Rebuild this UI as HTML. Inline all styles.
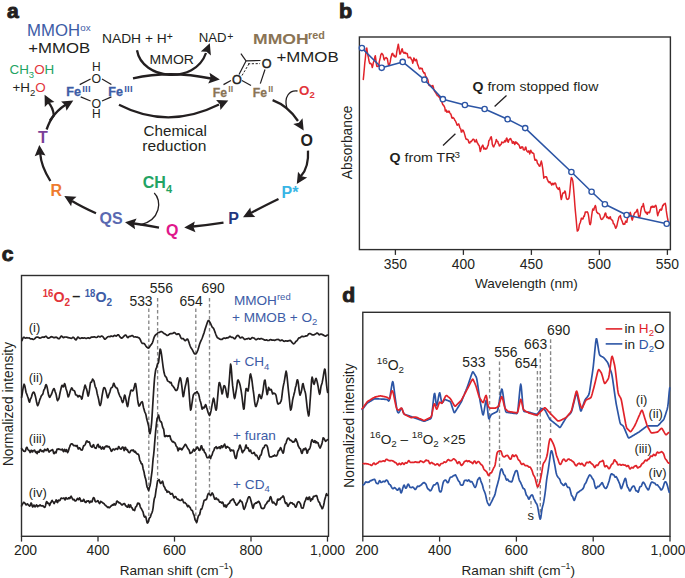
<!DOCTYPE html>
<html><head><meta charset="utf-8"><style>
html,body{margin:0;padding:0;background:#fff;}
svg{display:block;font-family:"Liberation Sans",sans-serif;}
</style></head><body>
<svg width="685" height="578" viewBox="0 0 685 578">
<rect width="685" height="578" fill="#fff"/>
<text transform="translate(7.0 17.6) scale(1.08 1)" font-size="19.5" fill="#231f20" font-weight="bold" text-anchor="start" stroke="#231f20" stroke-width="0.9">a</text>
<text transform="translate(27 36.4) scale(1.047 1)" font-size="16" fill="#3d5ca6" font-weight="normal" text-anchor="start" >MMOH</text>
<text x="80.3" y="31.2" font-size="9.8" fill="#3d5ca6" font-weight="normal" text-anchor="start" >ox</text>
<text transform="translate(28.3 52.7) scale(1.095 1)" font-size="15.3" fill="#231f20" font-weight="normal" text-anchor="start" >+MMOB</text>
<text x="9.5" y="74.4" font-size="13.4" fill="#22a363">CH<tspan font-size="9.5" dy="4">3</tspan><tspan dy="-4" fill="#e2343a">O</tspan>H</text>
<text x="12.5" y="91.8" font-size="13.4" fill="#231f20">+H<tspan font-size="9.5" dy="4">2</tspan><tspan dy="-4" fill="#e2343a">O</tspan></text>
<text x="66.2" y="96" font-size="12.6" fill="#3d5ca6" font-weight="bold" text-anchor="start" stroke="#3d5ca6" stroke-width="0.3">Fe</text>
<text x="82.2" y="92.0" font-size="9.6" fill="#3d5ca6" font-weight="bold" text-anchor="start" letter-spacing="0.2">III</text>
<text x="108.2" y="96" font-size="12.6" fill="#3d5ca6" font-weight="bold" text-anchor="start" stroke="#3d5ca6" stroke-width="0.3">Fe</text>
<text x="124.2" y="92.0" font-size="9.6" fill="#3d5ca6" font-weight="bold" text-anchor="start" letter-spacing="0.2">III</text>
<text x="96.3" y="71.3" font-size="12" fill="#231f20" font-weight="normal" text-anchor="middle" >H</text>
<text x="96.3" y="82.6" font-size="12.3" fill="#231f20" font-weight="normal" text-anchor="middle" >O</text>
<text x="96.3" y="107.7" font-size="12.3" fill="#231f20" font-weight="normal" text-anchor="middle" >O</text>
<text x="96.3" y="118.4" font-size="12" fill="#231f20" font-weight="normal" text-anchor="middle" >H</text>
<line x1="79.7" y1="84.6" x2="90.6" y2="79" stroke="#231f20" stroke-width="1.2" />
<line x1="102" y1="79" x2="111.4" y2="84.6" stroke="#231f20" stroke-width="1.2" />
<line x1="80.7" y1="96.9" x2="90.6" y2="101" stroke="#231f20" stroke-width="1.2" />
<line x1="102" y1="101" x2="111.4" y2="96.9" stroke="#231f20" stroke-width="1.2" />
<text transform="translate(102.0 42.8) scale(1.045 1)" font-size="13.2" fill="#231f20" font-weight="normal" text-anchor="start" >NADH + H</text>
<text x="166.8" y="40.2" font-size="10.5" fill="#231f20" font-weight="normal" text-anchor="start" >+</text>
<text x="198.8" y="41.9" font-size="13.2" fill="#231f20" font-weight="normal" text-anchor="start" >NAD</text>
<text x="227.2" y="39.9" font-size="10.5" fill="#231f20" font-weight="normal" text-anchor="start" >+</text>
<text transform="translate(149.6 64.3) scale(1.044 1)" font-size="13.4" fill="#231f20" font-weight="normal" text-anchor="start" >MMOR</text>
<text transform="translate(143.6 136.0) scale(1.1 1)" font-size="13.8" fill="#231f20" font-weight="normal" text-anchor="start" >Chemical</text>
<text transform="translate(142.3 151.1) scale(1.13 1)" font-size="13.8" fill="#231f20" font-weight="normal" text-anchor="start" >reduction</text>
<text transform="translate(253 44.3) scale(1.15 1)" font-size="15.3" fill="#8a7455" font-weight="bold" text-anchor="start" >MMOH</text>
<text x="308" y="38.9" font-size="10.8" fill="#8a7455" font-weight="bold" text-anchor="start" >red</text>
<text transform="translate(276.4 61.5) scale(1.14 1)" font-size="14.8" fill="#231f20" font-weight="normal" text-anchor="start" >+MMOB</text>
<text x="212.7" y="96.6" font-size="12.2" fill="#8a7455" font-weight="bold" text-anchor="start" stroke="#8a7455" stroke-width="0.3">Fe</text>
<text x="228.3" y="92.2" font-size="8.8" fill="#8a7455" font-weight="bold" text-anchor="start" >II</text>
<text x="252.7" y="96.6" font-size="12.2" fill="#8a7455" font-weight="bold" text-anchor="start" stroke="#8a7455" stroke-width="0.3">Fe</text>
<text x="268.3" y="92.2" font-size="8.8" fill="#8a7455" font-weight="bold" text-anchor="start" >II</text>
<text x="266.6" y="68.3" font-size="12.6" fill="#231f20" font-weight="normal" text-anchor="middle" stroke="#231f20" stroke-width="0.45">O</text>
<text x="237.0" y="83.6" font-size="12.6" fill="#231f20" font-weight="normal" text-anchor="middle" stroke="#231f20" stroke-width="0.45">O</text>
<line x1="240.9" y1="53.7" x2="246" y2="60.9" stroke="#231f20" stroke-width="1.2" />
<line x1="246" y1="60.9" x2="260.5" y2="60.5" stroke="#231f20" stroke-width="1.2" />
<line x1="246" y1="60.9" x2="239" y2="74.5" stroke="#231f20" stroke-width="1.2" />
<line x1="248" y1="63.8" x2="260" y2="63.6" stroke="#231f20" stroke-width="1.0" stroke-dasharray="2.2,1.6"/>
<line x1="249" y1="63.8" x2="242" y2="75.5" stroke="#231f20" stroke-width="1.0" stroke-dasharray="2.2,1.6"/>
<line x1="231" y1="80.5" x2="223.5" y2="84.6" stroke="#231f20" stroke-width="1.2" />
<line x1="241.9" y1="80.5" x2="251" y2="85.6" stroke="#231f20" stroke-width="1.2" />
<line x1="265" y1="69.5" x2="260.3" y2="83.6" stroke="#231f20" stroke-width="1.2" />
<text x="299" y="94.6" font-size="13.4" fill="#e2343a" font-weight="bold">O<tspan font-size="9.5" dy="3.5">2</tspan></text>
<path d="M137,50.3 C142,80 195,85 206,53" fill="none" stroke="#231f20" stroke-width="2.3" stroke-linecap="butt"/>
<polygon points="209.8,43.2 210.9,55.4 206.5,51.8 200.8,51.5" fill="#231f20"/>
<path d="M133,78.4 Q170,70 211,78.5" fill="none" stroke="#231f20" stroke-width="2.3" stroke-linecap="butt"/>
<polygon points="219.8,79.4 208.2,83.4 210.7,78.3 209.5,72.7" fill="#231f20"/>
<path d="M119,104.7 Q168,130 219,104.5" fill="none" stroke="#231f20" stroke-width="2.3" stroke-linecap="butt"/>
<polygon points="228.3,100.6 220.4,110.0 219.9,104.3 216.1,100.1" fill="#231f20"/>
<path d="M272.6,100.2 Q288,106 298,121" fill="none" stroke="#231f20" stroke-width="2.3" stroke-linecap="butt"/>
<polygon points="303.7,130.5 293.3,124.0 298.8,122.7 302.5,118.3" fill="#231f20"/>
<path d="M297.5,91 C289,90 284,97 286.8,108" fill="none" stroke="#231f20" stroke-width="1.3"/>
<path d="M308,150.6 Q309,167 301,176" fill="none" stroke="#231f20" stroke-width="2.3" stroke-linecap="butt"/>
<polygon points="296.8,184.0 298.0,171.8 301.7,176.2 307.2,177.5" fill="#231f20"/>
<path d="M278.5,199 Q262,207 251,213" fill="none" stroke="#231f20" stroke-width="2.3" stroke-linecap="butt"/>
<polygon points="243.0,217.2 250.3,207.4 251.2,213.0 255.3,217.0" fill="#231f20"/>
<path d="M223.5,222.6 Q208,225 193,226.5" fill="none" stroke="#231f20" stroke-width="2.3" stroke-linecap="butt"/>
<polygon points="184.2,227.6 194.8,221.4 193.4,227.0 195.5,232.2" fill="#231f20"/>
<path d="M159,227.7 Q145,225 134,223.5" fill="none" stroke="#231f20" stroke-width="2.3" stroke-linecap="butt"/>
<polygon points="125.0,222.3 136.6,218.5 134.1,223.6 135.1,229.2" fill="#231f20"/>
<path d="M154.2,193 C162,200 161,220 140.4,224.8" fill="none" stroke="#231f20" stroke-width="1.3"/>
<path d="M96,213.3 Q82,207 72,201" fill="none" stroke="#231f20" stroke-width="2.3" stroke-linecap="butt"/>
<polygon points="64.3,196.0 76.5,196.8 72.3,200.6 71.1,206.2" fill="#231f20"/>
<path d="M50.4,181 Q41,166 40.3,154" fill="none" stroke="#231f20" stroke-width="2.3" stroke-linecap="butt"/>
<polygon points="39.3,145.0 45.5,155.6 39.9,154.2 34.7,156.3" fill="#231f20"/>
<path d="M46.6,129.5 Q50,120 54.2,115" fill="none" stroke="#231f20" stroke-width="2.3"/>
<path d="M54,116 Q53,107 48,102" fill="none" stroke="#231f20" stroke-width="2.3" stroke-linecap="butt"/>
<polygon points="44.6,94.8 54.4,102.1 48.8,103.0 44.8,107.1" fill="#231f20"/>
<path d="M50,120.5 Q57,110 66,104.5" fill="none" stroke="#231f20" stroke-width="2.3" stroke-linecap="butt"/>
<polygon points="73.3,100.6 66.5,110.8 65.3,105.2 61.1,101.4" fill="#231f20"/>
<text x="38" y="143.3" font-size="16" fill="#7b3f98" font-weight="bold" text-anchor="start" >T</text>
<text x="50.4" y="195.8" font-size="16" fill="#ee7a2e" font-weight="bold" text-anchor="start" >R</text>
<text x="99.6" y="224.2" font-size="16" fill="#5a69b1" font-weight="bold" text-anchor="start" >QS</text>
<text x="166" y="235.9" font-size="16" fill="#e0178b" font-weight="bold" text-anchor="start" >Q</text>
<text x="228.3" y="224" font-size="16" fill="#23367f" font-weight="bold" text-anchor="start" >P</text>
<text x="281.5" y="197.6" font-size="16" fill="#39b5e5" font-weight="bold" text-anchor="start" >P*</text>
<text x="300.6" y="146.2" font-size="16" fill="#231f20" font-weight="bold" text-anchor="start" >O</text>
<text x="142.8" y="188" font-size="16" fill="#22a363" font-weight="bold">CH<tspan font-size="11" dy="4.5">4</tspan></text>
<text transform="translate(339.0 18.0) scale(1.08 1)" font-size="20" fill="#231f20" font-weight="bold" text-anchor="start" stroke="#231f20" stroke-width="0.9">b</text>
<rect x="359.4" y="37" width="311.0" height="212.6" fill="none" stroke="#2e2e2e" stroke-width="1.4"/>
<line x1="395.4" y1="249.6" x2="395.4" y2="254.9" stroke="#2e2e2e" stroke-width="1.3" />
<text x="395.4" y="269.4" font-size="13.9" fill="#231f20" font-weight="normal" text-anchor="middle" >350</text>
<line x1="463.4" y1="249.6" x2="463.4" y2="254.9" stroke="#2e2e2e" stroke-width="1.3" />
<text x="463.4" y="269.4" font-size="13.9" fill="#231f20" font-weight="normal" text-anchor="middle" >400</text>
<line x1="531.4" y1="249.6" x2="531.4" y2="254.9" stroke="#2e2e2e" stroke-width="1.3" />
<text x="531.4" y="269.4" font-size="13.9" fill="#231f20" font-weight="normal" text-anchor="middle" >450</text>
<line x1="599.4" y1="249.6" x2="599.4" y2="254.9" stroke="#2e2e2e" stroke-width="1.3" />
<text x="599.4" y="269.4" font-size="13.9" fill="#231f20" font-weight="normal" text-anchor="middle" >500</text>
<line x1="667.4" y1="249.6" x2="667.4" y2="254.9" stroke="#2e2e2e" stroke-width="1.3" />
<text x="667.4" y="269.4" font-size="13.9" fill="#231f20" font-weight="normal" text-anchor="middle" >550</text>
<text x="526.4" y="287.8" font-size="13.6" fill="#231f20" font-weight="normal" text-anchor="middle" >Wavelength (nm)</text>
<text x="351.6" y="142.3" font-size="13.8" fill="#231f20" text-anchor="middle" transform="rotate(-90 351.6 142.3)">Absorbance</text>
<polyline points="363.3,79.4 363.8,74.4 364.3,68.7 364.8,62.9 365.3,58.8 365.8,53.5 366.3,48.6 366.8,48.1 367.3,51.8 367.8,55.1 368.3,57.0 368.8,60.0 369.3,62.2 369.8,63.6 370.3,63.3 370.8,63.5 371.3,64.2 371.8,65.3 372.3,67.6 372.8,65.5 373.3,62.7 373.8,61.5 374.3,60.3 374.8,57.1 375.3,55.7 375.8,59.0 376.3,63.7 376.8,66.3 377.3,66.5 377.8,66.2 378.3,66.3 378.8,65.4 379.3,61.6 379.8,59.6 380.3,57.5 380.8,54.8 381.3,54.0 381.8,53.4 382.3,54.0 382.8,54.6 383.3,55.7 383.8,59.0 384.3,60.0 384.8,58.5 385.3,58.2 385.8,57.7 386.3,57.5 386.8,58.4 387.3,58.5 387.8,61.3 388.3,64.3 388.8,65.5 389.3,64.9 389.8,63.6 390.3,61.4 390.8,58.0 391.3,56.6 391.8,54.1 392.3,53.6 392.8,53.3 393.3,55.4 393.8,55.9 394.3,55.4 394.8,56.8 395.3,56.4 395.8,57.0 396.3,55.7 396.8,51.7 397.3,49.2 397.8,46.7 398.3,44.2 398.8,47.1 399.3,50.4 399.8,54.1 400.3,54.1 400.8,52.7 401.3,51.1 401.8,49.1 402.3,48.8 402.8,51.7 403.3,52.3 403.8,53.1 404.3,53.3 404.8,52.2 405.3,52.7 405.8,53.5 406.3,53.4 406.8,53.3 407.3,53.6 407.8,56.5 408.3,57.8 408.8,57.6 409.3,57.3 409.8,57.7 410.3,57.2 410.8,57.9 411.3,59.3 411.8,59.6 412.3,61.3 412.8,63.2 413.3,61.0 413.8,58.0 414.3,58.6 414.8,60.0 415.3,60.8 415.8,60.0 416.3,59.4 416.8,60.5 417.3,63.3 417.8,64.9 418.3,65.9 418.8,67.5 419.3,68.6 419.8,69.0 420.3,68.0 420.8,68.4 421.3,68.7 421.8,68.2 422.3,68.8 422.8,71.2 423.3,71.8 423.8,73.1 424.3,72.8 424.8,72.9 425.3,75.2 425.8,76.5 426.3,77.2 426.8,78.2 427.3,78.6 427.8,79.7 428.3,82.0 428.8,85.0 429.3,85.4 429.8,85.0 430.3,85.7 430.8,85.5 431.3,86.0 431.8,87.1 432.3,86.3 432.8,85.5 433.3,86.9 433.8,88.9 434.3,90.5 434.8,91.8 435.3,91.6 435.8,93.0 436.3,93.9 436.8,94.4 437.3,95.6 437.8,95.8 438.3,95.7 438.8,96.9 439.3,96.4 439.8,97.8 440.3,99.2 440.8,100.3 441.3,100.5 441.8,101.8 442.3,103.3 442.8,104.7 443.3,104.7 443.8,105.8 444.3,106.5 444.8,107.7 445.3,111.1 445.8,110.4 446.3,110.1 446.8,112.2 447.3,111.3 447.8,111.8 448.3,112.1 448.8,111.0 449.3,111.5 449.8,112.7 450.3,113.8 450.8,114.0 451.3,115.5 451.8,117.8 452.3,118.3 452.8,117.5 453.3,117.8 453.8,118.3 454.3,118.9 454.8,120.2 455.3,120.7 455.8,121.8 456.3,122.9 456.8,124.5 457.3,125.2 457.8,124.5 458.3,124.1 458.8,124.0 459.3,125.7 459.8,127.5 460.3,128.4 460.8,129.2 461.3,132.0 461.8,132.0 462.3,130.6 462.8,130.0 463.3,130.5 463.8,131.8 464.3,133.1 464.8,134.9 465.3,136.8 465.8,138.6 466.3,139.4 466.8,139.1 467.3,139.5 467.8,139.5 468.3,140.5 468.8,142.7 469.3,142.5 469.8,143.1 470.3,141.7 470.8,141.4 471.3,141.7 471.8,140.8 472.3,140.3 472.8,139.5 473.3,139.2 473.8,139.5 474.3,140.1 474.8,141.8 475.3,141.7 475.8,141.8 476.3,139.6 476.8,141.3 477.3,142.9 477.8,143.3 478.3,144.7 478.8,145.1 479.3,145.9 479.8,148.7 480.3,151.6 480.8,149.7 481.3,148.0 481.8,146.7 482.3,146.0 482.8,145.1 483.3,146.6 483.8,149.1 484.3,148.6 484.8,148.1 485.3,148.7 485.8,149.2 486.3,148.5 486.8,148.5 487.3,147.1 487.8,145.8 488.3,144.8 488.8,140.9 489.3,140.2 489.8,139.9 490.3,138.1 490.8,137.2 491.3,136.8 491.8,139.6 492.3,144.3 492.8,145.6 493.3,146.6 493.8,146.9 494.3,145.2 494.8,144.3 495.3,143.3 495.8,142.1 496.3,139.4 496.8,140.8 497.3,141.3 497.8,141.5 498.3,143.5 498.8,144.0 499.3,145.9 499.8,145.7 500.3,145.1 500.8,144.5 501.3,144.0 501.8,142.0 502.3,142.5 502.8,142.5 503.3,142.7 503.8,142.4 504.3,141.7 504.8,140.5 505.3,141.8 505.8,141.4 506.3,138.6 506.8,138.1 507.3,139.5 507.8,141.5 508.3,142.2 508.8,140.2 509.3,139.6 509.8,139.1 510.3,138.6 510.8,138.7 511.3,140.2 511.8,140.8 512.3,143.1 512.8,143.2 513.3,141.7 513.8,141.7 514.3,143.2 514.8,144.6 515.3,142.9 515.8,141.8 516.3,142.9 516.8,143.3 517.3,143.0 517.8,144.2 518.3,144.1 518.8,144.8 519.3,145.6 519.8,147.5 520.3,148.3 520.8,147.3 521.3,147.9 521.8,146.8 522.3,147.0 522.8,147.2 523.3,149.7 523.8,149.7 524.3,150.0 524.8,149.7 525.3,147.6 525.8,147.0 526.3,149.2 526.8,151.1 527.3,151.3 527.8,152.1 528.3,152.0 528.8,150.8 529.3,152.4 529.8,153.9 530.3,151.8 530.8,150.3 531.3,151.5 531.8,152.3 532.3,152.9 532.8,152.8 533.3,153.4 533.8,153.6 534.3,157.1 534.8,159.9 535.3,160.3 535.8,159.5 536.3,160.5 536.8,160.3 537.3,162.9 537.8,163.9 538.3,163.9 538.8,165.2 539.3,166.1 539.8,166.2 540.3,164.8 540.8,163.0 541.3,161.1 541.8,162.9 542.3,165.9 542.8,169.1 543.3,173.4 543.8,178.2 544.3,177.3 544.8,176.9 545.3,177.1 545.8,176.7 546.3,176.8 546.8,177.5 547.3,179.6 547.8,180.3 548.3,181.7 548.8,182.1 549.3,182.7 549.8,181.7 550.3,182.7 550.8,183.1 551.3,184.3 551.8,185.1 552.3,183.7 552.8,183.3 553.3,184.3 553.8,184.6 554.3,183.2 554.8,183.5 555.3,183.0 555.8,183.9 556.3,185.9 556.8,187.5 557.3,187.8 557.8,188.6 558.3,189.4 558.8,188.8 559.3,187.6 559.8,189.6 560.3,192.5 560.8,197.0 561.3,199.5 561.8,197.6 562.3,195.1 562.8,193.1 563.3,192.8 563.8,193.1 564.3,192.7 564.8,191.0 565.3,191.7 565.8,194.7 566.3,197.9 566.8,199.0 567.3,199.4 567.8,199.2 568.3,199.1 568.8,198.5 569.3,196.1 569.8,191.6 570.3,186.2 570.8,181.2 571.3,177.6 571.8,178.1 572.3,179.1 572.8,181.1 573.3,185.4 573.8,191.4 574.3,197.3 574.8,204.4 575.3,210.4 575.8,215.5 576.3,220.9 576.8,227.1 577.3,231.1 577.8,230.7 578.3,230.1 578.8,228.4 579.3,225.0 579.8,223.6 580.3,222.5 580.8,220.8 581.3,218.3 581.8,218.2 582.3,219.1 582.8,219.1 583.3,218.1 583.8,216.1 584.3,216.2 584.8,214.3 585.3,211.9 585.8,212.4 586.3,212.0 586.8,212.0 587.3,211.8 587.8,212.7 588.3,214.4 588.8,217.4 589.3,221.7 589.8,224.3 590.3,224.6 590.8,222.8 591.3,218.5 591.8,214.6 592.3,211.3 592.8,209.0 593.3,209.3 593.8,210.2 594.3,207.9 594.8,206.7 595.3,205.5 595.8,206.8 596.3,210.5 596.8,212.2 597.3,212.6 597.8,213.4 598.3,213.3 598.8,213.6 599.3,214.0 599.8,214.9 600.3,217.0 600.8,218.6 601.3,219.4 601.8,219.3 602.3,219.1 602.8,218.8 603.3,217.5 603.8,217.2 604.3,215.9 604.8,214.3 605.3,213.1 605.8,213.2 606.3,216.3 606.8,217.6 607.3,216.6 607.8,217.7 608.3,218.4 608.8,217.5 609.3,218.6 609.8,217.2 610.3,216.7 610.8,218.9 611.3,219.3 611.8,219.6 612.3,220.8 612.8,220.8 613.3,223.6 613.8,223.7 614.3,224.7 614.8,225.7 615.3,227.4 615.8,228.3 616.3,227.2 616.8,226.2 617.3,223.8 617.8,221.4 618.3,219.7 618.8,217.5 619.3,216.6 619.8,216.5 620.3,215.5 620.8,217.7 621.3,219.5 621.8,220.4 622.3,221.8 622.8,223.4 623.3,224.4 623.8,224.2 624.3,223.8 624.8,224.2 625.3,222.1 625.8,221.1 626.3,221.9 626.8,222.3 627.3,219.4 627.8,216.7 628.3,216.8 628.8,216.6 629.3,215.6 629.8,213.4 630.3,212.4 630.8,214.1 631.3,216.4 631.8,219.0 632.3,220.1 632.8,218.4 633.3,216.6 633.8,215.2 634.3,213.7 634.8,212.9 635.3,212.4 635.8,212.1 636.3,212.0 636.8,210.3 637.3,209.3 637.8,211.3 638.3,214.7 638.8,217.2 639.3,217.1 639.8,216.8 640.3,214.4 640.8,211.0 641.3,208.4 641.8,206.5 642.3,206.4 642.8,206.5 643.3,203.6 643.8,205.8 644.3,209.0 644.8,210.7 645.3,212.1 645.8,212.8 646.3,212.2 646.8,213.6 647.3,214.3 647.8,212.5 648.3,212.2 648.8,212.6 649.3,212.7 649.8,212.0 650.3,209.9 650.8,207.3 651.3,206.5 651.8,207.4 652.3,207.2 652.8,206.1 653.3,206.5 653.8,207.2 654.3,207.2 654.8,205.9 655.3,206.0 655.8,205.3 656.3,207.0 656.8,209.9 657.3,213.7 657.8,215.7 658.3,213.3 658.8,212.3 659.3,211.6 659.8,209.8 660.3,210.0 660.8,209.1 661.3,210.1 661.8,209.4 662.3,207.0 662.8,205.2 663.3,205.5 663.8,204.1 664.3,203.9 664.8,204.0 665.3,203.3 665.8,206.2 666.3,210.7 666.8,214.1 667.3,217.1 667.8,219.5 668.3,222.1" fill="none" stroke="#e1232a" stroke-width="1.5" stroke-linejoin="round" stroke-linecap="round" />
<polyline points="361.9,48.1 381.7,67.8 402.7,61.9 424.4,79.7 442.9,99.2 464.9,105 484.6,109 507.6,119.2 525.2,128.1 571.4,172 591.6,191.7 604.9,204.2 626.6,215 666.7,223.7" fill="none" stroke="#2c55a5" stroke-width="1.55" stroke-linejoin="round" stroke-linecap="round" />
<circle cx="361.9" cy="48.1" r="2.65" fill="#fff" stroke="#2c55a5" stroke-width="1.35"/>
<circle cx="381.7" cy="67.8" r="2.65" fill="#fff" stroke="#2c55a5" stroke-width="1.35"/>
<circle cx="402.7" cy="61.9" r="2.65" fill="#fff" stroke="#2c55a5" stroke-width="1.35"/>
<circle cx="424.4" cy="79.7" r="2.65" fill="#fff" stroke="#2c55a5" stroke-width="1.35"/>
<circle cx="442.9" cy="99.2" r="2.65" fill="#fff" stroke="#2c55a5" stroke-width="1.35"/>
<circle cx="464.9" cy="105" r="2.65" fill="#fff" stroke="#2c55a5" stroke-width="1.35"/>
<circle cx="484.6" cy="109" r="2.65" fill="#fff" stroke="#2c55a5" stroke-width="1.35"/>
<circle cx="507.6" cy="119.2" r="2.65" fill="#fff" stroke="#2c55a5" stroke-width="1.35"/>
<circle cx="525.2" cy="128.1" r="2.65" fill="#fff" stroke="#2c55a5" stroke-width="1.35"/>
<circle cx="571.4" cy="172" r="2.65" fill="#fff" stroke="#2c55a5" stroke-width="1.35"/>
<circle cx="591.6" cy="191.7" r="2.65" fill="#fff" stroke="#2c55a5" stroke-width="1.35"/>
<circle cx="604.9" cy="204.2" r="2.65" fill="#fff" stroke="#2c55a5" stroke-width="1.35"/>
<circle cx="626.6" cy="215" r="2.65" fill="#fff" stroke="#2c55a5" stroke-width="1.35"/>
<circle cx="666.7" cy="223.7" r="2.65" fill="#fff" stroke="#2c55a5" stroke-width="1.35"/>
<text transform="translate(472.6 91.2) scale(1.05 1)" font-size="13.4" fill="#231f20" font-weight="normal" text-anchor="start" ><tspan font-weight="bold">Q</tspan> from stopped flow</text>
<line x1="506.5" y1="95.5" x2="494.6" y2="106.4" stroke="#231f20" stroke-width="1.3" />
<text transform="translate(389.5 162.3) scale(1.06 1)" font-size="13.4" fill="#231f20" font-weight="normal" text-anchor="start" ><tspan font-weight="bold">Q</tspan> from TR</text>
<text x="454.6" y="157.8" font-size="9.8" fill="#231f20" font-weight="normal" text-anchor="start" >3</text>
<line x1="455.4" y1="133.8" x2="443" y2="145.5" stroke="#231f20" stroke-width="1.3" />
<text transform="translate(1.8 261.2) scale(1.08 1)" font-size="19.5" fill="#231f20" font-weight="bold" text-anchor="start" stroke="#231f20" stroke-width="0.9">c</text>
<rect x="21.5" y="275.5" width="307.0" height="260.79999999999995" fill="none" stroke="#2e2e2e" stroke-width="1.4"/>
<line x1="21.5" y1="536.3" x2="21.5" y2="541.5999999999999" stroke="#2e2e2e" stroke-width="1.3" />
<text x="25.5" y="555.4" font-size="13.9" fill="#231f20" font-weight="normal" text-anchor="middle" >200</text>
<line x1="98.0" y1="536.3" x2="98.0" y2="541.5999999999999" stroke="#2e2e2e" stroke-width="1.3" />
<text x="98.0" y="555.4" font-size="13.9" fill="#231f20" font-weight="normal" text-anchor="middle" >400</text>
<line x1="174.5" y1="536.3" x2="174.5" y2="541.5999999999999" stroke="#2e2e2e" stroke-width="1.3" />
<text x="174.5" y="555.4" font-size="13.9" fill="#231f20" font-weight="normal" text-anchor="middle" >600</text>
<line x1="251.0" y1="536.3" x2="251.0" y2="541.5999999999999" stroke="#2e2e2e" stroke-width="1.3" />
<text x="251.0" y="555.4" font-size="13.9" fill="#231f20" font-weight="normal" text-anchor="middle" >800</text>
<line x1="327.5" y1="536.3" x2="327.5" y2="541.5999999999999" stroke="#2e2e2e" stroke-width="1.3" />
<text x="327.5" y="555.4" font-size="13.9" fill="#231f20" font-weight="normal" text-anchor="middle" >1,000</text>
<text x="176.5" y="574.6" font-size="13.6" fill="#231f20" text-anchor="middle">Raman shift (cm<tspan font-size="8.8" dy="-5.5">−1</tspan><tspan dy="5.5">)</tspan></text>
<text x="12.6" y="404" font-size="13.8" fill="#231f20" text-anchor="middle" transform="rotate(-90 12.6 404)">Normalized intensity</text>
<text transform="translate(42.8 302) scale(0.95 1)" font-size="15" font-weight="bold" fill="#e2343a"><tspan font-size="10" dy="-5.5">16</tspan><tspan dy="5.5">O</tspan><tspan font-size="10.5" dy="4">2</tspan></text>
<text x="72.3" y="301" font-size="14.5" font-weight="bold" fill="#231f20">–</text>
<text transform="translate(84.8 302) scale(0.95 1)" font-size="15" font-weight="bold" fill="#3d5ca6"><tspan font-size="10" dy="-5.5">18</tspan><tspan dy="5.5">O</tspan><tspan font-size="10.5" dy="4">2</tspan></text>
<text x="141" y="305.5" font-size="13.9" fill="#231f20" font-weight="normal" text-anchor="middle" >533</text>
<text x="161.3" y="292.8" font-size="13.9" fill="#231f20" font-weight="normal" text-anchor="middle" >556</text>
<text x="191.1" y="305.5" font-size="13.9" fill="#231f20" font-weight="normal" text-anchor="middle" >654</text>
<text x="213.1" y="292.8" font-size="13.9" fill="#231f20" font-weight="normal" text-anchor="middle" >690</text>
<line x1="148.8" y1="308.5" x2="148.8" y2="522" stroke="#878787" stroke-width="1.35" stroke-dasharray="3.6,2.4"/>
<line x1="157.6" y1="298" x2="157.6" y2="479" stroke="#878787" stroke-width="1.35" stroke-dasharray="3.6,2.4"/>
<line x1="195.8" y1="308.5" x2="195.8" y2="522" stroke="#878787" stroke-width="1.35" stroke-dasharray="3.6,2.4"/>
<line x1="209.5" y1="298" x2="209.5" y2="493" stroke="#878787" stroke-width="1.35" stroke-dasharray="3.6,2.4"/>
<text x="233.9" y="305.4" font-size="13.6" fill="#3d5ca6" font-weight="normal" text-anchor="start" >MMOH<tspan font-size="9.5" dy="-5">red</tspan></text>
<text x="232" y="321.6" font-size="13.6" fill="#3d5ca6" font-weight="normal" text-anchor="start" >+ MMOB + O<tspan font-size="9.5" dy="3.5">2</tspan></text>
<text x="232.7" y="366" font-size="13.6" fill="#3d5ca6" font-weight="normal" text-anchor="start" >+ CH<tspan font-size="9.5" dy="3.5">4</tspan></text>
<text x="233.1" y="440.3" font-size="13.6" fill="#3d5ca6" font-weight="normal" text-anchor="start" >+ furan</text>
<text x="233.1" y="488.8" font-size="13.6" fill="#3d5ca6" font-weight="normal" text-anchor="start" >+ CD<tspan font-size="9.5" dy="3.5">4</tspan></text>
<text x="28.7" y="331.8" font-size="13" fill="#231f20" font-weight="normal" text-anchor="start" >(i)</text>
<text x="28.7" y="381.5" font-size="13" fill="#231f20" font-weight="normal" text-anchor="start" >(ii)</text>
<text x="28.7" y="443.0" font-size="13" fill="#231f20" font-weight="normal" text-anchor="start" >(iii)</text>
<text x="28.7" y="496.6" font-size="13" fill="#231f20" font-weight="normal" text-anchor="start" >(iv)</text>
<polyline points="22.0,340.5 22.5,339.2 23.0,338.0 23.5,337.3 24.0,337.3 24.5,337.6 25.0,338.0 25.5,338.1 26.0,338.0 26.5,337.8 27.0,337.7 27.5,337.9 28.0,338.0 28.5,338.0 29.0,337.9 29.5,338.1 30.0,338.5 30.5,338.8 31.0,338.9 31.5,338.8 32.0,338.8 32.5,339.1 33.0,339.3 33.5,339.4 34.0,339.2 34.5,338.8 35.0,338.3 35.5,337.8 36.0,337.4 36.5,337.2 37.0,337.1 37.5,337.1 38.0,337.2 38.5,337.4 39.0,337.7 39.5,337.9 40.0,338.1 40.5,338.0 41.0,337.8 41.5,337.5 42.0,337.2 42.5,337.0 43.0,337.1 43.5,337.2 44.0,337.3 44.5,337.1 45.0,336.7 45.5,336.4 46.0,336.3 46.5,336.5 47.0,337.2 47.5,337.8 48.0,338.2 48.5,338.2 49.0,338.1 49.5,337.8 50.0,337.5 50.5,337.1 51.0,336.9 51.5,336.7 52.0,336.8 52.5,337.0 53.0,337.3 53.5,337.6 54.0,337.7 54.5,337.6 55.0,337.4 55.5,337.3 56.0,337.2 56.5,337.3 57.0,337.6 57.5,338.0 58.0,338.4 58.5,338.7 59.0,338.7 59.5,338.4 60.0,337.8 60.5,337.0 61.0,336.3 61.5,336.1 62.0,336.4 62.5,336.9 63.0,337.4 63.5,337.6 64.0,337.4 64.5,337.1 65.0,337.0 65.5,337.0 66.0,337.1 66.5,337.1 67.0,337.2 67.5,337.4 68.0,337.6 68.5,337.7 69.0,337.8 69.5,337.9 70.0,338.0 70.5,338.1 71.0,338.3 71.5,338.3 72.0,338.0 72.5,337.6 73.0,337.3 73.5,337.4 74.0,337.8 74.5,338.5 75.0,339.2 75.5,339.7 76.0,339.8 76.5,339.3 77.0,338.3 77.5,337.4 78.0,337.1 78.5,337.4 79.0,337.9 79.5,338.3 80.0,338.5 80.5,338.4 81.0,338.2 81.5,337.9 82.0,337.8 82.5,337.9 83.0,338.2 83.5,338.2 84.0,338.0 84.5,337.9 85.0,338.0 85.5,338.2 86.0,338.4 86.5,338.4 87.0,338.2 87.5,338.0 88.0,337.8 88.5,337.9 89.0,338.1 89.5,338.3 90.0,338.2 90.5,337.8 91.0,337.3 91.5,337.0 92.0,337.0 92.5,337.2 93.0,337.2 93.5,337.0 94.0,336.8 94.5,336.8 95.0,337.1 95.5,337.3 96.0,337.5 96.5,337.5 97.0,337.3 97.5,336.8 98.0,336.4 98.5,336.3 99.0,336.5 99.5,336.8 100.0,337.0 100.5,336.7 101.0,336.3 101.5,336.1 102.0,336.2 102.5,336.4 103.0,336.8 103.5,337.5 104.0,338.2 104.5,338.9 105.0,339.2 105.5,339.0 106.0,338.5 106.5,337.9 107.0,337.5 107.5,337.0 108.0,336.7 108.5,336.5 109.0,336.5 109.5,336.6 110.0,336.6 110.5,336.4 111.0,336.1 111.5,336.1 112.0,336.2 112.5,336.5 113.0,336.5 113.5,336.2 114.0,335.7 114.5,335.4 115.0,335.5 115.5,335.8 116.0,336.1 116.5,335.9 117.0,335.5 117.5,335.1 118.0,334.8 118.5,334.9 119.0,335.4 119.5,336.2 120.0,336.9 120.5,337.5 121.0,337.9 121.5,338.1 122.0,338.1 122.5,337.8 123.0,337.2 123.5,336.7 124.0,336.2 124.5,335.6 125.0,335.2 125.5,335.0 126.0,335.3 126.5,336.0 127.0,336.9 127.5,337.5 128.0,337.6 128.5,337.1 129.0,336.5 129.5,336.3 130.0,336.3 130.5,336.3 131.0,336.0 131.5,335.7 132.0,335.5 132.5,335.6 133.0,336.0 133.5,336.6 134.0,337.0 134.5,337.0 135.0,336.9 135.5,336.9 136.0,337.0 136.5,337.1 137.0,337.1 137.5,337.2 138.0,337.4 138.5,337.7 139.0,337.9 139.5,338.4 140.0,339.1 140.5,340.1 141.0,341.3 141.5,342.3 142.0,343.1 142.5,343.5 143.0,343.5 143.5,343.4 144.0,343.5 144.5,343.9 145.0,344.6 145.5,345.4 146.0,346.2 146.5,346.8 147.0,347.3 147.5,347.6 148.0,348.0 148.5,348.1 149.0,347.8 149.5,347.1 150.0,346.2 150.5,345.5 151.0,344.9 151.5,344.3 152.0,343.6 152.5,342.5 153.0,341.0 153.5,339.3 154.0,337.7 154.5,336.5 155.0,335.6 155.5,335.0 156.0,334.6 156.5,334.3 157.0,333.9 157.5,333.3 158.0,332.7 158.5,332.5 159.0,332.5 159.5,332.4 160.0,332.1 160.5,331.8 161.0,331.6 161.5,331.6 162.0,331.8 162.5,332.2 163.0,332.7 163.5,333.1 164.0,333.4 164.5,333.7 165.0,333.9 165.5,334.3 166.0,334.7 166.5,335.1 167.0,335.4 167.5,335.4 168.0,335.2 168.5,334.9 169.0,334.5 169.5,334.1 170.0,333.8 170.5,333.7 171.0,333.6 171.5,333.6 172.0,333.6 172.5,333.5 173.0,333.2 173.5,332.9 174.0,332.6 174.5,332.6 175.0,332.9 175.5,333.4 176.0,334.0 176.5,334.3 177.0,334.4 177.5,334.1 178.0,333.9 178.5,333.8 179.0,334.1 179.5,334.7 180.0,335.6 180.5,336.8 181.0,337.9 181.5,338.6 182.0,338.7 182.5,338.6 183.0,338.5 183.5,338.9 184.0,339.5 184.5,340.2 185.0,340.6 185.5,340.6 186.0,340.2 186.5,339.6 187.0,339.1 187.5,339.1 188.0,339.8 188.5,341.0 189.0,342.5 189.5,344.1 190.0,345.5 190.5,346.8 191.0,347.7 191.5,348.5 192.0,349.2 192.5,350.1 193.0,351.1 193.5,352.2 194.0,353.1 194.5,353.7 195.0,354.0 195.5,354.0 196.0,353.7 196.5,353.0 197.0,352.1 197.5,351.0 198.0,349.6 198.5,347.9 199.0,346.2 199.5,344.6 200.0,343.1 200.5,341.8 201.0,340.6 201.5,339.6 202.0,338.5 202.5,337.2 203.0,335.8 203.5,334.4 204.0,332.9 204.5,331.2 205.0,329.5 205.5,327.9 206.0,326.4 206.5,325.0 207.0,323.5 207.5,322.0 208.0,320.9 208.5,320.5 209.0,320.8 209.5,321.6 210.0,322.5 210.5,323.4 211.0,324.5 211.5,325.7 212.0,326.7 212.5,327.4 213.0,327.8 213.5,328.4 214.0,329.4 214.5,330.7 215.0,332.1 215.5,333.5 216.0,334.8 216.5,336.0 217.0,337.0 217.5,337.7 218.0,338.0 218.5,338.3 219.0,338.6 219.5,339.0 220.0,339.2 220.5,339.3 221.0,339.4 221.5,339.4 222.0,339.4 222.5,339.1 223.0,338.6 223.5,338.3 224.0,338.1 224.5,338.1 225.0,338.3 225.5,338.3 226.0,338.2 226.5,337.9 227.0,337.7 227.5,337.8 228.0,337.8 228.5,337.6 229.0,337.1 229.5,336.6 230.0,336.4 230.5,336.6 231.0,337.0 231.5,337.3 232.0,337.3 232.5,337.3 233.0,337.5 233.5,338.0 234.0,338.5 234.5,338.8 235.0,338.6 235.5,338.0 236.0,337.1 236.5,336.4 237.0,335.8 237.5,335.5 238.0,335.4 238.5,335.7 239.0,336.3 239.5,337.1 240.0,337.7 240.5,338.0 241.0,337.8 241.5,337.4 242.0,337.2 242.5,337.3 243.0,337.7 243.5,338.3 244.0,338.9 244.5,339.3 245.0,339.4 245.5,339.2 246.0,339.0 246.5,338.9 247.0,338.9 247.5,338.8 248.0,338.5 248.5,338.3 249.0,338.4 249.5,338.9 250.0,339.2 250.5,339.2 251.0,338.7 251.5,338.1 252.0,337.7 252.5,337.7 253.0,337.8 253.5,338.0 254.0,338.1 254.5,338.4 255.0,339.0 255.5,339.5 256.0,339.7 256.5,339.6 257.0,339.3 257.5,339.0 258.0,338.7 258.5,338.6 259.0,338.8 259.5,339.1 260.0,339.1 260.5,338.8 261.0,338.5 261.5,338.5 262.0,338.8 262.5,339.0 263.0,339.2 263.5,339.4 264.0,339.7 264.5,339.9 265.0,340.1 265.5,340.1 266.0,340.0 266.5,339.9 267.0,340.1 267.5,340.4 268.0,340.5 268.5,340.5 269.0,340.4 269.5,340.1 270.0,339.8 270.5,339.7 271.0,339.7 271.5,339.9 272.0,340.1 272.5,340.2 273.0,340.1 273.5,340.1 274.0,340.2 274.5,340.3 275.0,340.3 275.5,340.0 276.0,339.8 276.5,339.6 277.0,339.6 277.5,339.5 278.0,339.4 278.5,339.5 279.0,339.8 279.5,340.3 280.0,340.7 280.5,340.7 281.0,340.4 281.5,340.1 282.0,340.0 282.5,340.3 283.0,340.7 283.5,341.1 284.0,341.3 284.5,341.3 285.0,341.1 285.5,340.8 286.0,340.8 286.5,341.0 287.0,341.1 287.5,341.1 288.0,340.9 288.5,340.8 289.0,340.7 289.5,340.5 290.0,340.4 290.5,340.6 291.0,341.1 291.5,341.7 292.0,342.4 292.5,343.0 293.0,343.5 293.5,343.8 294.0,343.7 294.5,343.3 295.0,342.7 295.5,341.9 296.0,341.4 296.5,341.0 297.0,340.6 297.5,339.9 298.0,339.1 298.5,338.4 299.0,337.9 299.5,337.8 300.0,337.7 300.5,337.4 301.0,337.0 301.5,336.5 302.0,336.3 302.5,336.4 303.0,336.6 303.5,336.6 304.0,336.5 304.5,336.5 305.0,336.3 305.5,336.1 306.0,335.9 306.5,335.9 307.0,335.8 307.5,335.4 308.0,334.8 308.5,334.1 309.0,333.8 309.5,333.6 310.0,333.5 310.5,333.7 311.0,334.1 311.5,334.4 312.0,334.7 312.5,334.8 313.0,334.9 313.5,334.9 314.0,334.8 314.5,334.6 315.0,334.3 315.5,334.0 316.0,333.7 316.5,333.3 317.0,333.0 317.5,333.0 318.0,333.5 318.5,334.2 319.0,334.7 319.5,334.8 320.0,334.5 320.5,334.2 321.0,334.1 321.5,334.2 322.0,334.4 322.5,334.6 323.0,334.9 323.5,335.1 324.0,335.4 324.5,335.7 325.0,336.0 325.5,336.1 326.0,336.0 326.5,335.6 327.0,335.2 327.5,335.0 328.0,335.0" fill="none" stroke="#231f20" stroke-width="1.7" stroke-linejoin="round" stroke-linecap="round" />
<polyline points="21.6,397.4 22.1,394.5 22.6,391.2 23.1,388.1 23.6,385.7 24.1,384.2 24.6,385.3 25.1,387.3 25.6,389.9 26.1,392.5 26.6,393.7 27.1,395.0 27.6,396.5 28.1,397.8 28.6,399.9 29.1,401.6 29.6,402.1 30.1,400.3 30.6,398.6 31.1,397.9 31.6,396.5 32.1,394.5 32.6,393.2 33.1,392.5 33.6,392.1 34.1,392.4 34.6,393.6 35.1,395.2 35.6,397.1 36.1,399.7 36.6,402.3 37.1,404.4 37.6,405.6 38.1,405.0 38.6,403.7 39.1,402.1 39.6,400.3 40.1,398.9 40.6,397.8 41.1,396.4 41.6,395.4 42.1,395.0 42.6,394.5 43.1,392.9 43.6,390.9 44.1,389.5 44.6,389.0 45.1,387.6 45.6,385.2 46.1,384.6 46.6,385.5 47.1,387.2 47.6,389.6 48.1,392.8 48.6,395.1 49.1,396.4 49.6,397.3 50.1,396.8 50.6,395.7 51.1,394.9 51.6,394.0 52.1,392.5 52.6,390.9 53.1,389.8 53.6,388.8 54.1,388.7 54.6,389.8 55.1,391.6 55.6,392.8 56.1,394.4 56.6,397.0 57.1,399.6 57.6,400.7 58.1,399.7 58.6,399.1 59.1,397.8 59.6,395.0 60.1,392.5 60.6,390.4 61.1,388.2 61.6,386.1 62.1,385.3 62.6,386.0 63.1,386.9 63.6,386.7 64.1,384.8 64.6,383.6 65.1,384.7 65.6,386.9 66.1,389.0 66.6,390.5 67.1,392.0 67.6,394.6 68.1,396.9 68.6,396.5 69.1,394.9 69.6,393.4 70.1,391.5 70.6,390.1 71.1,389.0 71.6,387.9 72.1,388.2 72.6,389.4 73.1,390.2 73.6,390.5 74.1,390.5 74.6,391.0 75.1,392.8 75.6,394.7 76.1,395.0 76.6,395.0 77.1,395.4 77.6,396.4 78.1,396.9 78.6,396.3 79.1,395.5 79.6,395.7 80.1,396.4 80.6,396.4 81.1,397.3 81.6,399.1 82.1,398.7 82.6,395.9 83.1,393.0 83.6,390.8 84.1,388.9 84.6,386.5 85.1,385.1 85.6,386.3 86.1,388.1 86.6,389.2 87.1,391.1 87.6,394.1 88.1,396.1 88.6,394.9 89.1,392.3 89.6,389.2 90.1,385.2 90.6,382.4 91.1,382.2 91.6,382.1 92.1,380.5 92.6,379.1 93.1,379.7 93.6,380.4 94.1,381.4 94.6,383.8 95.1,386.2 95.6,387.5 96.1,388.4 96.6,390.3 97.1,393.2 97.6,395.3 98.1,397.1 98.6,399.2 99.1,402.1 99.6,404.6 100.1,405.5 100.6,404.5 101.1,402.5 101.6,399.3 102.1,395.7 102.6,393.0 103.1,390.1 103.6,388.2 104.1,387.7 104.6,387.8 105.1,388.5 105.6,390.0 106.1,391.9 106.6,393.8 107.1,396.2 107.6,397.8 108.1,397.3 108.6,395.6 109.1,394.0 109.6,392.9 110.1,391.3 110.6,389.3 111.1,388.0 111.6,387.5 112.1,387.4 112.6,386.7 113.1,385.0 113.6,383.3 114.1,383.6 114.6,385.4 115.1,386.6 115.6,387.0 116.1,387.7 116.6,388.0 117.1,388.1 117.6,389.4 118.1,391.3 118.6,392.9 119.1,394.2 119.6,395.5 120.1,396.6 120.6,397.1 121.1,398.1 121.6,400.0 122.1,401.7 122.6,402.6 123.1,401.9 123.6,400.0 124.1,397.0 124.6,395.1 125.1,395.8 125.6,398.1 126.1,400.2 126.6,403.1 127.1,405.7 127.6,406.5 128.1,404.6 128.6,400.6 129.1,397.5 129.6,395.6 130.1,393.6 130.6,391.1 131.1,390.1 131.6,390.2 132.1,390.4 132.6,390.9 133.1,390.5 133.6,389.6 134.1,387.8 134.6,385.4 135.1,383.5 135.6,383.6 136.1,386.7 136.6,390.6 137.1,394.9 137.6,399.4 138.1,402.8 138.6,405.0 139.1,406.1 139.6,405.7 140.1,404.6 140.6,403.4 141.1,402.6 141.6,402.3 142.1,401.7 142.6,402.6 143.1,405.6 143.6,407.9 144.1,409.5 144.6,411.5 145.1,412.7 145.6,413.6 146.1,415.6 146.6,418.3 147.1,420.3 147.6,422.0 148.1,424.0 148.6,426.1 149.1,429.6 149.6,433.5 150.1,433.6 150.6,430.9 151.1,427.4 151.6,423.0 152.1,415.6 152.6,407.2 153.1,399.3 153.6,391.6 154.1,384.1 154.6,377.8 155.1,373.6 155.6,370.3 156.1,368.6 156.6,367.6 157.1,365.5 157.6,363.6 158.1,363.4 158.6,362.1 159.1,357.9 159.6,352.7 160.1,349.2 160.6,349.7 161.1,351.9 161.6,355.1 162.1,359.0 162.6,363.0 163.1,366.8 163.6,370.0 164.1,372.8 164.6,374.6 165.1,376.0 165.6,376.6 166.1,377.0 166.6,378.0 167.1,379.7 167.6,380.8 168.1,381.2 168.6,381.5 169.1,381.7 169.6,382.0 170.1,382.8 170.6,382.9 171.1,382.5 171.6,384.0 172.1,385.5 172.6,385.7 173.1,386.3 173.6,387.2 174.1,387.7 174.6,388.5 175.1,389.6 175.6,390.3 176.1,390.4 176.6,390.4 177.1,389.9 177.6,388.7 178.1,386.5 178.6,383.7 179.1,381.2 179.6,379.2 180.1,377.7 180.6,378.5 181.1,380.9 181.6,384.3 182.1,388.4 182.6,393.1 183.1,396.6 183.6,396.0 184.1,392.9 184.6,389.7 185.1,387.1 185.6,385.0 186.1,383.1 186.6,380.5 187.1,378.3 187.6,377.8 188.1,380.7 188.6,386.4 189.1,393.0 189.6,399.6 190.1,405.9 190.6,410.1 191.1,409.2 191.6,405.9 192.1,402.5 192.6,399.2 193.1,396.1 193.6,394.3 194.1,393.9 194.6,393.3 195.1,392.8 195.6,393.0 196.1,392.8 196.6,391.8 197.1,391.7 197.6,392.8 198.1,393.4 198.6,394.1 199.1,396.0 199.6,398.7 200.1,400.7 200.6,402.1 201.1,404.0 201.6,406.8 202.1,409.1 202.6,408.6 203.1,407.4 203.6,407.4 204.1,407.9 204.6,407.2 205.1,405.5 205.6,404.6 206.1,405.5 206.6,407.5 207.1,409.1 207.6,410.7 208.1,412.5 208.6,413.7 209.1,414.8 209.6,415.5 210.1,414.4 210.6,412.6 211.1,410.4 211.6,407.6 212.1,404.7 212.6,402.1 213.1,399.3 213.6,398.2 214.1,399.7 214.6,402.8 215.1,406.4 215.6,409.1 216.1,410.2 216.6,408.6 217.1,403.5 217.6,397.8 218.1,392.2 218.6,386.7 219.1,382.8 219.6,382.6 220.1,384.1 220.6,386.1 221.1,388.7 221.6,391.9 222.1,394.0 222.6,392.6 223.1,389.6 223.6,386.9 224.1,385.7 224.6,385.9 225.1,386.8 225.6,388.7 226.1,391.3 226.6,394.4 227.1,396.8 227.6,397.4 228.1,394.2 228.6,388.4 229.1,382.7 229.6,376.5 230.1,369.4 230.6,364.2 231.1,366.3 231.6,372.5 232.1,379.7 232.6,385.4 233.1,389.4 233.6,393.2 234.1,396.9 234.6,398.6 235.1,397.0 235.6,393.9 236.1,391.1 236.6,388.1 237.1,384.0 237.6,380.7 238.1,379.9 238.6,380.9 239.1,382.0 239.6,383.4 240.1,385.2 240.6,387.8 241.1,390.5 241.6,393.9 242.1,397.5 242.6,401.8 243.1,406.0 243.6,409.2 244.1,408.8 244.6,403.4 245.1,397.0 245.6,391.7 246.1,388.5 246.6,388.5 247.1,389.7 247.6,390.9 248.1,391.0 248.6,387.8 249.1,383.6 249.6,379.0 250.1,374.9 250.6,374.0 251.1,376.1 251.6,378.3 252.1,381.5 252.6,385.8 253.1,389.7 253.6,393.0 254.1,397.2 254.6,401.7 255.1,404.6 255.6,406.4 256.1,406.5 256.6,405.1 257.1,403.4 257.6,401.8 258.1,399.4 258.6,396.4 259.1,394.5 259.6,394.6 260.1,396.1 260.6,397.7 261.1,398.5 261.6,397.7 262.1,395.6 262.6,393.1 263.1,390.1 263.6,386.2 264.1,382.5 264.6,380.3 265.1,380.2 265.6,383.8 266.1,387.9 266.6,391.6 267.1,394.6 267.6,393.6 268.1,389.8 268.6,387.4 269.1,388.3 269.6,389.9 270.1,390.0 270.6,389.4 271.1,389.4 271.6,390.4 272.1,392.2 272.6,393.9 273.1,393.7 273.6,393.0 274.1,393.2 274.6,393.5 275.1,393.8 275.6,394.3 276.1,395.7 276.6,398.4 277.1,401.3 277.6,403.3 278.1,404.2 278.6,403.7 279.1,403.3 279.6,403.4 280.1,403.0 280.6,401.9 281.1,401.0 281.6,398.7 282.1,394.6 282.6,390.4 283.1,387.1 283.6,384.7 284.1,382.4 284.6,379.6 285.1,376.5 285.6,373.4 286.1,371.2 286.6,372.9 287.1,377.1 287.6,382.2 288.1,387.3 288.6,392.1 289.1,396.6 289.6,401.6 290.1,406.8 290.6,410.1 291.1,409.4 291.6,407.2 292.1,403.9 292.6,400.2 293.1,397.8 293.6,395.9 294.1,393.7 294.6,391.9 295.1,389.3 295.6,386.9 296.1,385.4 296.6,382.7 297.1,380.1 297.6,379.9 298.1,381.7 298.6,385.7 299.1,390.2 299.6,393.7 300.1,395.1 300.6,393.8 301.1,392.4 301.6,390.3 302.1,387.1 302.6,384.2 303.1,383.7 303.6,385.9 304.1,388.3 304.6,390.2 305.1,391.7 305.6,393.9 306.1,397.8 306.6,402.4 307.1,407.1 307.6,410.9 308.1,413.8 308.6,416.0 309.1,414.4 309.6,408.3 310.1,401.0 310.6,394.4 311.1,387.0 311.6,379.9 312.1,377.1 312.6,378.5 313.1,381.2 313.6,383.5 314.1,384.3 314.6,382.9 315.1,380.6 315.6,379.0 316.1,378.4 316.6,379.7 317.1,381.6 317.6,383.8 318.1,386.4 318.6,389.5 319.1,392.6 319.6,394.3 320.1,392.7 320.6,389.1 321.1,385.9 321.6,384.4 322.1,382.9 322.6,380.4 323.1,377.6 323.6,374.5 324.1,371.4 324.6,369.1 325.1,369.5 325.6,374.0 326.1,380.1 326.6,385.3 327.1,389.3 327.6,392.4" fill="none" stroke="#231f20" stroke-width="1.7" stroke-linejoin="round" stroke-linecap="round" />
<polyline points="21.6,448.4 22.1,449.4 22.6,449.7 23.1,450.3 23.6,451.1 24.1,451.2 24.6,451.4 25.1,451.4 25.6,450.5 26.1,448.4 26.6,447.3 27.1,447.6 27.6,448.9 28.1,449.7 28.6,450.3 29.1,450.6 29.6,451.3 30.1,452.5 30.6,451.8 31.1,450.4 31.6,450.3 32.1,451.8 32.6,451.8 33.1,450.6 33.6,450.7 34.1,450.7 34.6,450.2 35.1,451.4 35.6,452.4 36.1,451.7 36.6,452.8 37.1,453.7 37.6,452.1 38.1,451.3 38.6,451.9 39.1,452.2 39.6,451.2 40.1,449.7 40.6,449.7 41.1,450.5 41.6,451.2 42.1,451.5 42.6,450.9 43.1,451.1 43.6,451.9 44.1,450.6 44.6,449.3 45.1,449.5 45.6,450.0 46.1,450.6 46.6,450.3 47.1,449.3 47.6,448.7 48.1,449.4 48.6,451.4 49.1,452.1 49.6,451.2 50.1,450.9 50.6,450.9 51.1,450.3 51.6,450.2 52.1,449.9 52.6,449.6 53.1,451.1 53.6,453.1 54.1,453.6 54.6,452.5 55.1,452.0 55.6,452.9 56.1,452.9 56.6,450.5 57.1,449.0 57.6,449.2 58.1,449.3 58.6,448.9 59.1,449.0 59.6,449.2 60.1,449.6 60.6,449.5 61.1,449.7 61.6,449.9 62.1,449.1 62.6,449.4 63.1,451.1 63.6,451.6 64.1,450.3 64.6,449.3 65.1,450.8 65.6,451.4 66.1,450.2 66.6,449.7 67.1,451.5 67.6,452.5 68.1,451.6 68.6,450.2 69.1,448.3 69.6,447.0 70.1,445.6 70.6,444.5 71.1,444.1 71.6,443.8 72.1,443.8 72.6,444.2 73.1,444.9 73.6,445.6 74.1,445.7 74.6,445.5 75.1,445.6 75.6,445.5 76.1,446.4 76.6,446.3 77.1,445.4 77.6,446.9 78.1,448.9 78.6,448.8 79.1,447.8 79.6,447.8 80.1,448.6 80.6,449.3 81.1,449.8 81.6,449.9 82.1,450.1 82.6,449.1 83.1,447.2 83.6,445.8 84.1,445.6 84.6,445.4 85.1,444.6 85.6,443.7 86.1,441.9 86.6,441.0 87.1,440.9 87.6,441.6 88.1,442.2 88.6,442.1 89.1,441.8 89.6,442.5 90.1,444.3 90.6,445.9 91.1,446.2 91.6,447.0 92.1,447.2 92.6,446.1 93.1,445.0 93.6,444.7 94.1,446.3 94.6,447.7 95.1,447.6 95.6,448.2 96.1,448.3 96.6,447.0 97.1,445.6 97.6,444.7 98.1,444.3 98.6,445.7 99.1,447.5 99.6,446.7 100.1,446.3 100.6,447.5 101.1,448.7 101.6,449.0 102.1,447.8 102.6,446.9 103.1,447.5 103.6,449.0 104.1,449.0 104.6,447.5 105.1,446.8 105.6,446.6 106.1,446.0 106.6,446.4 107.1,446.8 107.6,446.1 108.1,446.7 108.6,447.0 109.1,446.6 109.6,447.7 110.1,448.5 110.6,449.4 111.1,451.0 111.6,451.3 112.1,450.5 112.6,449.6 113.1,449.0 113.6,449.0 114.1,449.6 114.6,449.9 115.1,449.4 115.6,448.9 116.1,448.6 116.6,448.7 117.1,449.1 117.6,449.4 118.1,448.2 118.6,446.6 119.1,446.9 119.6,447.9 120.1,448.7 120.6,448.9 121.1,449.1 121.6,448.6 122.1,447.4 122.6,447.0 123.1,447.2 123.6,448.4 124.1,450.6 124.6,449.5 125.1,447.3 125.6,447.6 126.1,449.4 126.6,449.9 127.1,449.5 127.6,450.1 128.1,451.5 128.6,452.2 129.1,452.5 129.6,452.6 130.1,452.0 130.6,450.7 131.1,450.6 131.6,450.2 132.1,450.3 132.6,450.7 133.1,449.9 133.6,450.4 134.1,451.6 134.6,452.0 135.1,451.3 135.6,452.0 136.1,453.0 136.6,453.4 137.1,453.9 137.6,454.1 138.1,454.0 138.6,454.7 139.1,456.3 139.6,459.4 140.1,461.0 140.6,461.5 141.1,463.3 141.6,463.8 142.1,463.8 142.6,465.8 143.1,468.7 143.6,470.4 144.1,472.3 144.6,475.3 145.1,477.4 145.6,478.8 146.1,481.1 146.6,484.6 147.1,487.0 147.6,487.8 148.1,489.4 148.6,490.4 149.1,489.0 149.6,486.9 150.1,485.4 150.6,482.4 151.1,478.2 151.6,474.3 152.1,470.6 152.6,464.8 153.1,458.9 153.6,455.2 154.1,450.0 154.6,443.6 155.1,437.5 155.6,431.7 156.1,426.8 156.6,422.1 157.1,418.5 157.6,417.7 158.1,416.4 158.6,415.1 159.1,417.3 159.6,419.5 160.1,420.9 160.6,421.8 161.1,421.7 161.6,422.6 162.1,424.9 162.6,427.1 163.1,428.2 163.6,428.9 164.1,432.5 164.6,436.3 165.1,436.7 165.6,436.2 166.1,435.7 166.6,435.5 167.1,436.3 167.6,436.5 168.1,435.8 168.6,435.9 169.1,436.2 169.6,435.6 170.1,436.3 170.6,438.6 171.1,439.8 171.6,440.2 172.1,441.5 172.6,442.0 173.1,441.7 173.6,441.7 174.1,442.5 174.6,442.7 175.1,443.2 175.6,444.3 176.1,446.0 176.6,446.5 177.1,447.0 177.6,449.0 178.1,450.8 178.6,449.7 179.1,448.0 179.6,448.6 180.1,449.2 180.6,448.4 181.1,448.5 181.6,449.8 182.1,449.6 182.6,448.7 183.1,447.7 183.6,447.1 184.1,446.2 184.6,445.3 185.1,444.6 185.6,444.4 186.1,445.2 186.6,446.3 187.1,447.1 187.6,448.0 188.1,448.8 188.6,449.6 189.1,449.9 189.6,451.7 190.1,453.5 190.6,453.3 191.1,452.5 191.6,452.7 192.1,452.2 192.6,451.4 193.1,450.1 193.6,449.2 194.1,450.2 194.6,451.0 195.1,450.4 195.6,449.4 196.1,449.2 196.6,448.1 197.1,447.0 197.6,447.2 198.1,448.1 198.6,449.1 199.1,450.3 199.6,450.5 200.1,449.7 200.6,447.9 201.1,446.1 201.6,445.8 202.1,447.5 202.6,449.7 203.1,450.0 203.6,449.3 204.1,450.9 204.6,452.4 205.1,452.7 205.6,453.7 206.1,454.9 206.6,456.6 207.1,457.6 207.6,457.7 208.1,457.6 208.6,457.4 209.1,456.6 209.6,455.9 210.1,457.9 210.6,458.6 211.1,456.6 211.6,455.7 212.1,454.9 212.6,453.0 213.1,451.5 213.6,451.0 214.1,449.9 214.6,448.0 215.1,447.7 215.6,447.4 216.1,446.6 216.6,447.5 217.1,448.6 217.6,447.9 218.1,447.6 218.6,447.8 219.1,446.9 219.6,447.1 220.1,448.5 220.6,448.2 221.1,446.1 221.6,445.8 222.1,447.0 222.6,447.5 223.1,446.6 223.6,445.6 224.1,445.0 224.6,444.1 225.1,445.5 225.6,447.5 226.1,448.1 226.6,447.2 227.1,446.4 227.6,447.1 228.1,447.2 228.6,447.5 229.1,448.0 229.6,448.1 230.1,450.2 230.6,451.1 231.1,450.4 231.6,450.0 232.1,450.5 232.6,450.7 233.1,450.2 233.6,450.5 234.1,452.8 234.6,455.3 235.1,457.3 235.6,458.4 236.1,458.5 236.6,456.8 237.1,453.5 237.6,451.3 238.1,450.5 238.6,449.4 239.1,447.7 239.6,445.4 240.1,445.1 240.6,446.9 241.1,448.3 241.6,449.8 242.1,452.0 242.6,452.6 243.1,451.4 243.6,450.8 244.1,450.6 244.6,449.7 245.1,448.3 245.6,446.2 246.1,445.0 246.6,446.7 247.1,448.2 247.6,448.0 248.1,447.8 248.6,449.3 249.1,450.9 249.6,451.4 250.1,450.7 250.6,450.1 251.1,451.7 251.6,453.0 252.1,453.4 252.6,453.5 253.1,453.2 253.6,452.9 254.1,452.3 254.6,453.3 255.1,454.6 255.6,455.6 256.1,455.2 256.6,455.1 257.1,456.0 257.6,457.2 258.1,458.0 258.6,459.3 259.1,459.2 259.6,457.6 260.1,455.8 260.6,455.0 261.1,455.0 261.6,453.1 262.1,450.5 262.6,449.3 263.1,448.1 263.6,447.8 264.1,447.5 264.6,446.0 265.1,445.1 265.6,445.2 266.1,445.2 266.6,445.3 267.1,446.1 267.6,447.5 268.1,450.1 268.6,452.8 269.1,455.4 269.6,456.7 270.1,457.0 270.6,456.9 271.1,456.9 271.6,456.8 272.1,456.7 272.6,456.3 273.1,455.9 273.6,456.2 274.1,455.5 274.6,455.0 275.1,455.7 275.6,455.9 276.1,456.0 276.6,455.9 277.1,454.9 277.6,453.8 278.1,451.5 278.6,450.4 279.1,450.7 279.6,450.1 280.1,448.5 280.6,447.6 281.1,448.5 281.6,449.8 282.1,451.0 282.6,452.4 283.1,453.2 283.6,452.2 284.1,449.2 284.6,446.0 285.1,444.4 285.6,443.8 286.1,442.8 286.6,441.0 287.1,439.6 287.6,438.6 288.1,438.0 288.6,438.2 289.1,438.5 289.6,439.6 290.1,440.3 290.6,440.2 291.1,440.4 291.6,440.7 292.1,441.4 292.6,442.1 293.1,442.2 293.6,441.6 294.1,441.8 294.6,441.4 295.1,440.1 295.6,438.8 296.1,439.3 296.6,441.0 297.1,442.0 297.6,443.2 298.1,445.5 298.6,446.5 299.1,447.3 299.6,448.4 300.1,448.5 300.6,449.2 301.1,451.5 301.6,453.1 302.1,453.4 302.6,451.9 303.1,449.6 303.6,449.0 304.1,449.8 304.6,449.5 305.1,448.3 305.6,448.2 306.1,449.2 306.6,451.0 307.1,453.2 307.6,452.7 308.1,450.3 308.6,449.3 309.1,449.4 309.6,448.7 310.1,447.5 310.6,445.5 311.1,442.6 311.6,440.4 312.1,439.7 312.6,440.6 313.1,441.5 313.6,442.1 314.1,442.3 314.6,440.7 315.1,440.9 315.6,442.6 316.1,442.9 316.6,441.7 317.1,442.3 317.6,442.8 318.1,442.9 318.6,444.9 319.1,446.3 319.6,447.2 320.1,448.1 320.6,447.2 321.1,445.7 321.6,444.7 322.1,442.8 322.6,440.5 323.1,437.9 323.6,438.0 324.1,438.7 324.6,439.5 325.1,440.7 325.6,441.3 326.1,440.8 326.6,440.5 327.1,440.0 327.6,439.6" fill="none" stroke="#231f20" stroke-width="1.7" stroke-linejoin="round" stroke-linecap="round" />
<polyline points="21.6,505.8 22.1,504.7 22.6,504.0 23.1,503.1 23.6,502.3 24.1,502.6 24.6,502.9 25.1,503.5 25.6,504.3 26.1,504.9 26.6,504.6 27.1,504.1 27.6,503.9 28.1,504.6 28.6,505.1 29.1,505.7 29.6,506.1 30.1,505.7 30.6,504.3 31.1,503.0 31.6,503.8 32.1,505.8 32.6,506.9 33.1,506.6 33.6,505.3 34.1,505.1 34.6,506.3 35.1,506.8 35.6,506.2 36.1,505.4 36.6,504.9 37.1,505.9 37.6,506.7 38.1,505.9 38.6,505.7 39.1,505.9 39.6,505.4 40.1,504.8 40.6,505.3 41.1,505.8 41.6,505.9 42.1,505.9 42.6,505.7 43.1,505.9 43.6,506.7 44.1,506.8 44.6,507.3 45.1,507.0 45.6,505.2 46.1,502.9 46.6,501.6 47.1,502.0 47.6,503.2 48.1,503.5 48.6,503.2 49.1,504.1 49.6,505.5 50.1,504.2 50.6,502.7 51.1,502.4 51.6,501.2 52.1,500.3 52.6,501.2 53.1,501.8 53.6,502.7 54.1,503.5 54.6,502.5 55.1,501.7 55.6,501.5 56.1,499.9 56.6,500.2 57.1,502.2 57.6,502.5 58.1,501.0 58.6,500.1 59.1,500.5 59.6,500.6 60.1,500.1 60.6,499.0 61.1,498.1 61.6,498.2 62.1,498.5 62.6,498.5 63.1,498.3 63.6,498.0 64.1,498.0 64.6,499.4 65.1,499.9 65.6,498.3 66.1,497.6 66.6,498.4 67.1,499.0 67.6,499.0 68.1,498.8 68.6,497.9 69.1,497.7 69.6,498.6 70.1,498.1 70.6,496.9 71.1,496.2 71.6,497.1 72.1,498.1 72.6,499.1 73.1,499.8 73.6,499.5 74.1,499.4 74.6,500.4 75.1,501.0 75.6,500.9 76.1,500.6 76.6,499.9 77.1,498.8 77.6,498.4 78.1,499.1 78.6,499.7 79.1,499.1 79.6,497.9 80.1,498.7 80.6,500.3 81.1,501.3 81.6,500.9 82.1,500.6 82.6,501.1 83.1,500.7 83.6,499.4 84.1,499.9 84.6,501.5 85.1,502.1 85.6,502.4 86.1,502.3 86.6,501.1 87.1,501.0 87.6,501.2 88.1,501.1 88.6,500.8 89.1,501.8 89.6,502.8 90.1,501.9 90.6,501.2 91.1,501.7 91.6,502.0 92.1,501.7 92.6,499.8 93.1,498.2 93.6,497.6 94.1,498.0 94.6,499.2 95.1,501.2 95.6,501.8 96.1,501.7 96.6,501.5 97.1,501.2 97.6,500.7 98.1,500.9 98.6,502.2 99.1,502.9 99.6,503.5 100.1,502.8 100.6,501.4 101.1,501.5 101.6,502.0 102.1,502.3 102.6,502.7 103.1,503.2 103.6,503.3 104.1,503.7 104.6,504.6 105.1,505.0 105.6,505.3 106.1,505.9 106.6,506.2 107.1,506.8 107.6,507.5 108.1,507.5 108.6,507.0 109.1,507.6 109.6,507.6 110.1,507.2 110.6,506.3 111.1,505.9 111.6,505.8 112.1,505.1 112.6,504.7 113.1,505.1 113.6,505.0 114.1,503.7 114.6,504.1 115.1,505.0 115.6,504.6 116.1,503.7 116.6,501.5 117.1,501.0 117.6,501.7 118.1,501.9 118.6,502.4 119.1,502.9 119.6,502.7 120.1,503.1 120.6,503.6 121.1,504.1 121.6,504.9 122.1,504.8 122.6,504.8 123.1,504.0 123.6,503.8 124.1,503.7 124.6,503.6 125.1,504.7 125.6,505.8 126.1,505.9 126.6,506.2 127.1,507.1 127.6,507.2 128.1,505.8 128.6,504.6 129.1,506.1 129.6,507.3 130.1,506.0 130.6,505.0 131.1,506.5 131.6,507.7 132.1,507.9 132.6,509.0 133.1,510.0 133.6,509.9 134.1,510.3 134.6,510.6 135.1,508.8 135.6,507.0 136.1,506.7 136.6,506.1 137.1,504.7 137.6,503.2 138.1,503.0 138.6,503.8 139.1,503.5 139.6,504.3 140.1,506.3 140.6,507.7 141.1,508.3 141.6,509.2 142.1,510.2 142.6,511.1 143.1,512.2 143.6,514.6 144.1,516.3 144.6,517.1 145.1,516.8 145.6,516.4 146.1,518.0 146.6,520.6 147.1,522.7 147.6,523.0 148.1,522.3 148.6,520.6 149.1,518.6 149.6,517.8 150.1,517.5 150.6,516.3 151.1,514.5 151.6,513.4 152.1,512.3 152.6,510.7 153.1,507.8 153.6,503.4 154.1,499.8 154.6,497.8 155.1,496.8 155.6,493.4 156.1,489.6 156.6,487.2 157.1,483.6 157.6,480.9 158.1,480.4 158.6,480.2 159.1,479.7 159.6,481.0 160.1,482.8 160.6,483.4 161.1,483.2 161.6,482.7 162.1,481.6 162.6,481.2 163.1,483.0 163.6,485.6 164.1,486.7 164.6,487.1 165.1,488.5 165.6,489.9 166.1,489.8 166.6,490.5 167.1,492.3 167.6,491.7 168.1,491.3 168.6,491.9 169.1,491.8 169.6,492.3 170.1,493.5 170.6,494.2 171.1,493.9 171.6,493.8 172.1,493.5 172.6,494.2 173.1,495.5 173.6,496.9 174.1,497.9 174.6,497.2 175.1,496.5 175.6,496.6 176.1,497.2 176.6,498.1 177.1,498.9 177.6,499.3 178.1,499.2 178.6,499.7 179.1,500.1 179.6,500.2 180.1,500.4 180.6,500.5 181.1,500.3 181.6,499.8 182.1,499.1 182.6,499.6 183.1,501.1 183.6,502.3 184.1,502.8 184.6,502.5 185.1,502.6 185.6,503.4 186.1,503.8 186.6,504.2 187.1,505.7 187.6,506.7 188.1,506.0 188.6,505.5 189.1,506.4 189.6,507.1 190.1,507.3 190.6,508.6 191.1,509.7 191.6,510.3 192.1,510.3 192.6,511.1 193.1,512.9 193.6,514.4 194.1,515.4 194.6,517.6 195.1,520.0 195.6,520.5 196.1,521.2 196.6,522.6 197.1,521.5 197.6,518.7 198.1,516.9 198.6,515.5 199.1,515.0 199.6,514.7 200.1,512.8 200.6,510.0 201.1,508.9 201.6,509.1 202.1,508.0 202.6,506.1 203.1,504.5 203.6,502.4 204.1,500.5 204.6,500.1 205.1,500.2 205.6,499.7 206.1,499.6 206.6,499.1 207.1,497.3 207.6,495.3 208.1,494.0 208.6,493.4 209.1,493.7 209.6,494.3 210.1,494.9 210.6,495.6 211.1,495.0 211.6,493.7 212.1,493.0 212.6,493.4 213.1,494.3 213.6,496.0 214.1,497.6 214.6,499.1 215.1,499.3 215.6,498.7 216.1,497.9 216.6,498.3 217.1,499.5 217.6,499.7 218.1,499.4 218.6,499.9 219.1,501.1 219.6,502.1 220.1,502.2 220.6,501.9 221.1,502.4 221.6,503.1 222.1,502.8 222.6,502.1 223.1,503.0 223.6,505.1 224.1,506.5 224.6,506.1 225.1,505.0 225.6,505.6 226.1,507.3 226.6,506.6 227.1,505.2 227.6,504.7 228.1,504.3 228.6,503.5 229.1,503.2 229.6,502.9 230.1,501.4 230.6,500.6 231.1,500.6 231.6,500.3 232.1,499.7 232.6,499.2 233.1,498.9 233.6,499.5 234.1,500.9 234.6,502.3 235.1,502.7 235.6,503.7 236.1,504.9 236.6,505.1 237.1,505.0 237.6,504.2 238.1,503.3 238.6,502.8 239.1,502.3 239.6,501.2 240.1,500.1 240.6,500.7 241.1,501.4 241.6,501.5 242.1,502.3 242.6,504.0 243.1,506.2 243.6,508.7 244.1,509.3 244.6,508.4 245.1,507.3 245.6,505.9 246.1,503.6 246.6,502.3 247.1,501.3 247.6,499.3 248.1,498.0 248.6,497.1 249.1,496.8 249.6,496.9 250.1,497.8 250.6,499.6 251.1,501.3 251.6,503.2 252.1,505.1 252.6,507.4 253.1,508.3 253.6,506.5 254.1,504.2 254.6,503.9 255.1,503.7 255.6,502.8 256.1,502.9 256.6,503.2 257.1,502.2 257.6,501.9 258.1,502.1 258.6,501.3 259.1,501.7 259.6,503.0 260.1,504.0 260.6,505.8 261.1,507.6 261.6,508.3 262.1,508.3 262.6,508.5 263.1,508.7 263.6,508.3 264.1,508.0 264.6,507.1 265.1,505.2 265.6,504.6 266.1,504.0 266.6,503.5 267.1,502.5 267.6,501.4 268.1,501.2 268.6,501.4 269.1,500.8 269.6,499.4 270.1,497.3 270.6,496.7 271.1,497.6 271.6,499.5 272.1,501.8 272.6,502.8 273.1,502.2 273.6,502.0 274.1,503.0 274.6,503.4 275.1,503.8 275.6,504.6 276.1,505.0 276.6,504.3 277.1,501.6 277.6,499.3 278.1,499.2 278.6,500.0 279.1,499.2 279.6,499.3 280.1,499.4 280.6,498.3 281.1,497.8 281.6,497.5 282.1,497.3 282.6,496.3 283.1,496.0 283.6,496.6 284.1,498.1 284.6,500.4 285.1,502.2 285.6,503.4 286.1,503.4 286.6,502.8 287.1,504.1 287.6,506.0 288.1,506.3 288.6,505.3 289.1,504.2 289.6,503.8 290.1,503.0 290.6,502.5 291.1,503.0 291.6,502.8 292.1,502.8 292.6,503.6 293.1,504.2 293.6,504.0 294.1,504.2 294.6,505.3 295.1,506.4 295.6,507.2 296.1,507.0 296.6,505.5 297.1,503.7 297.6,502.4 298.1,502.0 298.6,501.7 299.1,501.9 299.6,502.6 300.1,503.2 300.6,504.3 301.1,506.5 301.6,508.0 302.1,507.8 302.6,508.2 303.1,507.9 303.6,506.4 304.1,504.3 304.6,502.1 305.1,501.1 305.6,500.2 306.1,498.3 306.6,497.3 307.1,497.8 307.6,499.2 308.1,499.5 308.6,498.1 309.1,497.0 309.6,497.1 310.1,499.6 310.6,501.1 311.1,500.2 311.6,498.9 312.1,499.4 312.6,499.3 313.1,497.1 313.6,496.3 314.1,496.6 314.6,496.2 315.1,496.0 315.6,495.7 316.1,495.5 316.6,495.6 317.1,496.9 317.6,498.8 318.1,500.3 318.6,501.6 319.1,502.1 319.6,502.6 320.1,504.4 320.6,505.7 321.1,506.2 321.6,507.4 322.1,508.6 322.6,508.4 323.1,507.0 323.6,505.4 324.1,503.0 324.6,500.1 325.1,498.5 325.6,496.8 326.1,494.6 326.6,493.7 327.1,495.0 327.6,495.4" fill="none" stroke="#231f20" stroke-width="1.7" stroke-linejoin="round" stroke-linecap="round" />
<text transform="translate(342.2 302.4) scale(1.06 1)" font-size="20" fill="#231f20" font-weight="bold" text-anchor="start" stroke="#231f20" stroke-width="0.9">d</text>
<rect x="362.8" y="312.3" width="307.2" height="223.99999999999994" fill="none" stroke="#2e2e2e" stroke-width="1.4"/>
<line x1="362.8" y1="536.3" x2="362.8" y2="541.5999999999999" stroke="#2e2e2e" stroke-width="1.3" />
<text x="366.8" y="555.4" font-size="13.9" fill="#231f20" font-weight="normal" text-anchor="middle" >200</text>
<line x1="439.6" y1="536.3" x2="439.6" y2="541.5999999999999" stroke="#2e2e2e" stroke-width="1.3" />
<text x="439.6" y="555.4" font-size="13.9" fill="#231f20" font-weight="normal" text-anchor="middle" >400</text>
<line x1="516.4" y1="536.3" x2="516.4" y2="541.5999999999999" stroke="#2e2e2e" stroke-width="1.3" />
<text x="516.4" y="555.4" font-size="13.9" fill="#231f20" font-weight="normal" text-anchor="middle" >600</text>
<line x1="593.2" y1="536.3" x2="593.2" y2="541.5999999999999" stroke="#2e2e2e" stroke-width="1.3" />
<text x="593.2" y="555.4" font-size="13.9" fill="#231f20" font-weight="normal" text-anchor="middle" >800</text>
<line x1="670.0" y1="536.3" x2="670.0" y2="541.5999999999999" stroke="#2e2e2e" stroke-width="1.3" />
<text x="668.0" y="555.4" font-size="13.9" fill="#231f20" font-weight="normal" text-anchor="middle" >1,000</text>
<text x="518.3" y="574.6" font-size="13.6" fill="#231f20" text-anchor="middle">Raman shift (cm<tspan font-size="8.8" dy="-5.5">−1</tspan><tspan dy="5.5">)</tspan></text>
<text x="353.6" y="425.5" font-size="13.8" fill="#231f20" text-anchor="middle" transform="rotate(-90 353.6 425.5)">Normalized intensity</text>
<text x="376.8" y="369.6" font-size="14" fill="#231f20"><tspan font-size="9.8" dy="-5.5">16</tspan><tspan dy="5.5">O</tspan><tspan font-size="9.8" dy="3.5">2</tspan></text>
<text x="369.8" y="443.8" font-size="13.6" fill="#231f20"><tspan font-size="9.8" dy="-5.5">16</tspan><tspan dy="5.5">O</tspan><tspan font-size="9.8" dy="3.5">2</tspan><tspan dy="-3.5"> – </tspan><tspan font-size="9.8" dy="-5.5">18</tspan><tspan dy="5.5">O</tspan><tspan font-size="9.8" dy="3.5">2</tspan><tspan dy="-3.5"> ×25</tspan></text>
<text x="473.9" y="367.2" font-size="13.9" fill="#231f20" font-weight="normal" text-anchor="middle" >533</text>
<text x="505.8" y="356.7" font-size="13.9" fill="#231f20" font-weight="normal" text-anchor="middle" >556</text>
<text x="526.4" y="368.3" font-size="13.9" fill="#231f20" font-weight="normal" text-anchor="middle" >654</text>
<text x="535.6" y="349.2" font-size="13.9" fill="#231f20" font-weight="normal" text-anchor="middle" >663</text>
<text x="558.6" y="335.3" font-size="13.9" fill="#231f20" font-weight="normal" text-anchor="middle" >690</text>
<line x1="489.6" y1="371" x2="489.6" y2="503" stroke="#878787" stroke-width="1.35" stroke-dasharray="3.6,2.4"/>
<line x1="499.5" y1="361.4" x2="499.5" y2="467" stroke="#878787" stroke-width="1.35" stroke-dasharray="3.6,2.4"/>
<line x1="537.4" y1="371" x2="537.4" y2="489" stroke="#878787" stroke-width="1.35" stroke-dasharray="3.6,2.4"/>
<line x1="540.3" y1="353" x2="540.3" y2="516" stroke="#878787" stroke-width="1.35" stroke-dasharray="3.6,2.4"/>
<line x1="550.6" y1="339.3" x2="550.6" y2="433" stroke="#878787" stroke-width="1.35" stroke-dasharray="3.6,2.4"/>
<line x1="605.7" y1="328.9" x2="622.3" y2="328.9" stroke="#e1232a" stroke-width="1.6" />
<line x1="605.7" y1="343.9" x2="622.3" y2="343.9" stroke="#2c55a5" stroke-width="1.6" />
<text x="624.5" y="332.5" font-size="13.6" fill="#231f20">in <tspan fill="#e1232a">H<tspan font-size="9.5" dy="3.5">2</tspan></tspan><tspan dy="-3.5">O</tspan></text>
<text x="624.5" y="348.6" font-size="13.6" fill="#231f20">in <tspan fill="#2c55a5">D<tspan font-size="9.5" dy="3.5">2</tspan></tspan><tspan dy="-3.5">O</tspan></text>
<text x="635.8" y="404" font-size="13" fill="#231f20" font-weight="normal" text-anchor="start" >(i)</text>
<text x="648.5" y="418.3" font-size="13" fill="#231f20" font-weight="normal" text-anchor="start" >(ii)</text>
<text x="634.4" y="452.5" font-size="13" fill="#231f20" font-weight="normal" text-anchor="start" >(iii)</text>
<text x="648.6" y="476.8" font-size="13" fill="#231f20" font-weight="normal" text-anchor="start" >(iv)</text>
<text x="527.5" y="519.5" font-size="13" fill="#231f20" font-weight="normal" text-anchor="start" >s</text>
<line x1="531" y1="501" x2="531" y2="508" stroke="#878787" stroke-width="1.35" stroke-dasharray="3.6,2.4"/>
<polyline points="362.2,409.3 362.7,408.8 363.2,408.2 363.7,407.6 364.2,407.0 364.7,406.3 365.2,405.7 365.7,405.0 366.2,404.4 366.7,403.8 367.2,403.2 367.7,402.8 368.2,402.5 368.7,402.2 369.2,401.9 369.7,401.6 370.2,401.3 370.7,401.0 371.2,400.7 371.7,400.4 372.2,400.1 372.7,399.8 373.2,399.5 373.7,399.2 374.2,399.0 374.7,398.8 375.2,398.7 375.7,398.8 376.2,398.8 376.7,398.8 377.2,398.8 377.7,398.9 378.2,398.9 378.7,398.9 379.2,399.0 379.7,399.0 380.2,399.0 380.7,399.0 381.2,399.1 381.7,399.1 382.2,399.1 382.7,399.2 383.2,399.2 383.7,399.2 384.2,399.2 384.7,399.3 385.2,399.3 385.7,399.3 386.2,399.4 386.7,399.5 387.2,399.7 387.7,400.1 388.2,400.6 388.7,401.0 389.2,400.4 389.7,398.3 390.2,395.3 390.7,392.2 391.2,389.0 391.7,385.9 392.2,383.0 392.7,381.5 393.2,382.9 393.7,386.2 394.2,390.1 394.7,394.0 395.2,397.8 395.7,401.4 396.2,404.8 396.7,408.2 397.2,410.8 397.7,412.2 398.2,412.7 398.7,412.8 399.2,412.2 399.7,411.3 400.2,410.2 400.7,409.3 401.2,408.5 401.7,408.4 402.2,409.3 402.7,410.7 403.2,412.2 403.7,413.4 404.2,414.0 404.7,414.3 405.2,414.5 405.7,414.7 406.2,414.9 406.7,415.0 407.2,415.2 407.7,415.4 408.2,415.6 408.7,415.8 409.2,415.9 409.7,416.1 410.2,416.3 410.7,416.5 411.2,416.6 411.7,416.8 412.2,417.0 412.7,417.2 413.2,417.4 413.7,417.5 414.2,417.7 414.7,417.9 415.2,418.1 415.7,418.3 416.2,418.4 416.7,418.6 417.2,418.8 417.7,419.0 418.2,419.2 418.7,419.3 419.2,419.5 419.7,419.7 420.2,419.9 420.7,420.0 421.2,420.2 421.7,420.4 422.2,420.6 422.7,420.8 423.2,420.9 423.7,421.1 424.2,421.2 424.7,421.1 425.2,420.9 425.7,420.7 426.2,420.5 426.7,420.3 427.2,420.1 427.7,419.9 428.2,419.7 428.7,419.5 429.2,419.3 429.7,419.1 430.2,418.9 430.7,418.6 431.2,417.8 431.7,415.6 432.2,411.6 432.7,407.0 433.2,402.3 433.7,397.7 434.2,394.1 434.7,393.5 435.2,396.2 435.7,400.3 436.2,404.0 436.7,405.7 437.2,404.5 437.7,401.8 438.2,398.9 438.7,396.0 439.2,393.6 439.7,392.8 440.2,394.5 440.7,397.3 441.2,400.1 441.7,402.2 442.2,402.8 442.7,402.4 443.2,401.7 443.7,400.9 444.2,400.2 444.7,399.7 445.2,399.6 445.7,399.8 446.2,400.0 446.7,400.2 447.2,400.3 447.7,400.5 448.2,400.7 448.7,400.9 449.2,401.1 449.7,401.3 450.2,401.7 450.7,402.5 451.2,403.8 451.7,405.4 452.2,407.0 452.7,408.6 453.2,410.1 453.7,411.6 454.2,412.6 454.7,412.5 455.2,411.8 455.7,411.1 456.2,410.2 456.7,409.4 457.2,408.6 457.7,407.8 458.2,407.0 458.7,406.2 459.2,405.4 459.7,404.6 460.2,403.7 460.7,402.9 461.2,402.0 461.7,401.0 462.2,399.8 462.7,398.5 463.2,397.3 463.7,396.0 464.2,394.8 464.7,393.5 465.2,392.2 465.7,391.0 466.2,389.7 466.7,388.5 467.2,387.2 467.7,385.9 468.2,384.5 468.7,383.0 469.2,381.6 469.7,380.1 470.2,378.6 470.7,377.1 471.2,375.6 471.7,374.2 472.2,372.8 472.7,371.9 473.2,372.1 473.7,372.8 474.2,373.6 474.7,374.4 475.2,375.3 475.7,376.1 476.2,377.0 476.7,378.6 477.2,381.3 477.7,384.7 478.2,388.2 478.7,391.7 479.2,395.2 479.7,398.5 480.2,401.6 480.7,404.3 481.2,407.0 481.7,409.6 482.2,412.2 482.7,414.3 483.2,414.9 483.7,413.2 484.2,410.4 484.7,407.4 485.2,404.3 485.7,401.6 486.2,400.3 486.7,402.2 487.2,406.2 487.7,410.8 488.2,415.3 488.7,418.3 489.2,418.8 489.7,417.9 490.2,416.7 490.7,415.6 491.2,414.8 491.7,414.3 492.2,414.1 492.7,413.8 493.2,413.6 493.7,413.3 494.2,413.1 494.7,412.8 495.2,412.6 495.7,412.3 496.2,412.1 496.7,411.8 497.2,411.3 497.7,410.1 498.2,407.8 498.7,405.0 499.2,402.1 499.7,399.2 500.2,396.3 500.7,393.5 501.2,390.7 501.7,389.0 502.2,389.6 502.7,392.2 503.2,395.5 503.7,399.0 504.2,402.5 504.7,405.9 505.2,409.1 505.7,411.3 506.2,412.2 506.7,412.3 507.2,412.4 507.7,412.5 508.2,412.5 508.7,412.6 509.2,412.7 509.7,412.7 510.2,412.8 510.7,412.9 511.2,412.9 511.7,413.0 512.2,413.1 512.7,413.1 513.2,413.2 513.7,413.3 514.2,413.3 514.7,413.4 515.2,413.5 515.7,413.5 516.2,413.6 516.7,413.6 517.2,413.2 517.7,411.3 518.2,407.3 518.7,402.2 519.2,396.9 519.7,391.7 520.2,386.8 520.7,384.2 521.2,386.2 521.7,391.5 522.2,397.6 522.7,403.7 523.2,408.5 523.7,410.9 524.2,411.5 524.7,411.6 525.2,411.7 525.7,411.7 526.2,411.8 526.7,411.9 527.2,412.0 527.7,412.0 528.2,412.1 528.7,412.2 529.2,412.3 529.7,412.4 530.2,412.6 530.7,412.7 531.2,412.9 531.7,413.0 532.2,413.2 532.7,413.3 533.2,413.5 533.7,413.6 534.2,413.8 534.7,413.9 535.2,414.1 535.7,414.2 536.2,414.4 536.7,414.4 537.2,414.1 537.7,413.5 538.2,412.9 538.7,412.2 539.2,411.5 539.7,410.9 540.2,410.2 540.7,409.5 541.2,408.9 541.7,408.5 542.2,408.5 542.7,408.7 543.2,409.0 543.7,409.2 544.2,409.5 544.7,409.9 545.2,410.5 545.7,411.4 546.2,412.3 546.7,413.3 547.2,414.3 547.7,415.3 548.2,416.3 548.7,417.2 549.2,418.2 549.7,419.1 550.2,419.7 550.7,420.1 551.2,420.5 551.7,420.9 552.2,421.3 552.7,421.7 553.2,422.1 553.7,422.5 554.2,422.9 554.7,423.3 555.2,423.7 555.7,424.1 556.2,424.5 556.7,424.9 557.2,425.3 557.7,425.7 558.2,426.2 558.7,426.7 559.2,427.1 559.7,427.4 560.2,427.3 560.7,426.7 561.2,425.9 561.7,425.0 562.2,424.2 562.7,423.4 563.2,422.5 563.7,421.7 564.2,420.9 564.7,420.0 565.2,419.2 565.7,418.4 566.2,417.6 566.7,417.0 567.2,416.5 567.7,416.0 568.2,415.5 568.7,415.0 569.2,414.6 569.7,414.1 570.2,413.6 570.7,413.0 571.2,412.3 571.7,411.0 572.2,409.2 572.7,407.2 573.2,405.2 573.7,403.2 574.2,401.2 574.7,399.2 575.2,397.2 575.7,395.2 576.2,393.6 576.7,393.3 577.2,394.7 577.7,397.1 578.2,399.5 578.7,402.0 579.2,404.5 579.7,406.9 580.2,409.3 580.7,410.9 581.2,410.8 581.7,409.6 582.2,408.1 582.7,406.6 583.2,405.1 583.7,403.6 584.2,402.1 584.7,400.7 585.2,399.7 585.7,398.9 586.2,398.3 586.7,397.7 587.2,397.1 587.7,396.4 588.2,395.8 588.7,394.9 589.2,393.3 589.7,390.7 590.2,387.5 590.7,384.2 591.2,380.9 591.7,377.6 592.2,374.3 592.7,370.9 593.2,367.1 593.7,362.4 594.2,357.3 594.7,352.2 595.2,347.0 595.7,342.1 596.2,338.8 596.7,338.9 597.2,341.4 597.7,344.5 598.2,347.7 598.7,350.8 599.2,353.4 599.7,355.0 600.2,355.6 600.7,355.9 601.2,356.2 601.7,356.5 602.2,356.7 602.7,357.0 603.2,357.2 603.7,357.6 604.2,358.2 604.7,358.8 605.2,359.4 605.7,360.0 606.2,360.6 606.7,361.3 607.2,361.9 607.7,362.7 608.2,363.9 608.7,365.2 609.2,366.6 609.7,368.0 610.2,369.3 610.7,370.7 611.2,372.1 611.7,373.9 612.2,376.5 612.7,379.7 613.2,383.2 613.7,386.7 614.2,390.3 614.7,393.8 615.2,397.3 615.7,400.7 616.2,403.8 616.7,406.4 617.2,408.9 617.7,411.4 618.2,413.9 618.7,416.4 619.2,418.8 619.7,421.2 620.2,423.1 620.7,424.1 621.2,424.5 621.7,424.8 622.2,425.2 622.7,425.5 623.2,426.1 623.7,426.9 624.2,428.1 624.7,429.2 625.2,430.4 625.7,431.6 626.2,432.8 626.7,434.0 627.2,435.2 627.7,436.4 628.2,437.4 628.7,437.9 629.2,437.8 629.7,437.6 630.2,437.3 630.7,437.0 631.2,436.7 631.7,436.4 632.2,436.1 632.7,435.8 633.2,435.5 633.7,435.2 634.2,434.9 634.7,434.6 635.2,434.3 635.7,434.0 636.2,433.7 636.7,433.4 637.2,433.1 637.7,432.8 638.2,432.5 638.7,432.2 639.2,431.9 639.7,431.5 640.2,431.1 640.7,430.8 641.2,430.4 641.7,430.0 642.2,429.6 642.7,429.3 643.2,428.9 643.7,428.5 644.2,428.1 644.7,427.8 645.2,427.4 645.7,427.0 646.2,426.6 646.7,426.3 647.2,426.0 647.7,425.9 648.2,425.9 648.7,425.9 649.2,425.9 649.7,425.9 650.2,425.9 650.7,425.9 651.2,425.9 651.7,425.9 652.2,425.9 652.7,425.9 653.2,425.9 653.7,425.9 654.2,425.9 654.7,425.9 655.2,425.9 655.7,425.9 656.2,425.9 656.7,425.9 657.2,425.9 657.7,425.7 658.2,425.3 658.7,424.8 659.2,424.3 659.7,423.8 660.2,423.3 660.7,422.7 661.2,422.2 661.7,421.7 662.2,421.2 662.7,420.7 663.2,420.2 663.7,419.4 664.2,418.3 664.7,416.9 665.2,415.4 665.7,413.9 666.2,412.3 666.7,410.8 667.2,409.2 667.7,406.9 668.2,403.0 668.7,397.6 669.2,392.0 669.7,387.8" fill="none" stroke="#2c55a5" stroke-width="1.7" stroke-linejoin="round" stroke-linecap="round" />
<polyline points="362.2,408.7 362.7,408.2 363.2,407.5 363.7,406.8 364.2,406.0 364.7,405.3 365.2,404.6 365.7,403.9 366.2,403.2 366.7,402.5 367.2,401.9 367.7,401.4 368.2,401.1 368.7,400.8 369.2,400.5 369.7,400.2 370.2,399.9 370.7,399.6 371.2,399.2 371.7,398.9 372.2,398.6 372.7,398.3 373.2,398.0 373.7,397.7 374.2,397.5 374.7,397.2 375.2,397.1 375.7,396.9 376.2,396.8 376.7,396.7 377.2,396.6 377.7,396.5 378.2,396.3 378.7,396.2 379.2,396.1 379.7,396.0 380.2,395.9 380.7,395.9 381.2,396.0 381.7,396.1 382.2,396.2 382.7,396.3 383.2,396.4 383.7,396.5 384.2,396.6 384.7,396.7 385.2,396.8 385.7,396.9 386.2,397.0 386.7,397.2 387.2,397.4 387.7,397.7 388.2,398.1 388.7,398.5 389.2,398.8 389.7,398.6 390.2,397.2 390.7,394.8 391.2,392.5 391.7,391.1 392.2,390.8 392.7,391.3 393.2,392.9 393.7,395.1 394.2,397.5 394.7,400.0 395.2,402.5 395.7,404.9 396.2,407.1 396.7,408.6 397.2,409.3 397.7,409.7 398.2,410.0 398.7,410.1 399.2,409.8 399.7,409.4 400.2,408.8 400.7,408.4 401.2,408.0 401.7,408.2 402.2,409.3 402.7,410.7 403.2,412.2 403.7,413.4 404.2,414.1 404.7,414.4 405.2,414.7 405.7,415.0 406.2,415.2 406.7,415.5 407.2,415.7 407.7,416.0 408.2,416.2 408.7,416.5 409.2,416.7 409.7,417.0 410.2,417.2 410.7,417.5 411.2,417.6 411.7,417.6 412.2,417.5 412.7,417.4 413.2,417.3 413.7,417.2 414.2,417.1 414.7,417.1 415.2,417.0 415.7,417.0 416.2,417.2 416.7,417.4 417.2,417.6 417.7,417.8 418.2,418.0 418.7,418.3 419.2,418.5 419.7,418.7 420.2,418.9 420.7,419.1 421.2,419.3 421.7,419.5 422.2,419.7 422.7,420.0 423.2,420.2 423.7,420.4 424.2,420.5 424.7,420.3 425.2,420.1 425.7,419.8 426.2,419.6 426.7,419.3 427.2,419.1 427.7,418.8 428.2,418.6 428.7,418.3 429.2,418.1 429.7,417.8 430.2,417.6 430.7,417.3 431.2,416.6 431.7,415.2 432.2,412.8 432.7,410.1 433.2,407.6 433.7,405.5 434.2,404.1 434.7,403.9 435.2,405.1 435.7,406.9 436.2,408.5 436.7,409.2 437.2,408.5 437.7,407.2 438.2,405.7 438.7,404.3 439.2,403.0 439.7,402.2 440.2,402.3 440.7,402.7 441.2,403.1 441.7,403.3 442.2,402.8 442.7,401.9 443.2,400.9 443.7,399.9 444.2,398.9 444.7,397.9 445.2,396.9 445.7,396.0 446.2,395.5 446.7,395.6 447.2,395.9 447.7,396.3 448.2,396.8 448.7,397.2 449.2,397.6 449.7,398.0 450.2,398.5 450.7,399.2 451.2,400.0 451.7,400.9 452.2,401.8 452.7,402.7 453.2,403.6 453.7,404.5 454.2,405.4 454.7,406.0 455.2,406.2 455.7,405.9 456.2,405.4 456.7,404.9 457.2,404.4 457.7,403.9 458.2,403.3 458.7,402.8 459.2,402.3 459.7,401.8 460.2,401.3 460.7,400.8 461.2,400.2 461.7,399.5 462.2,398.6 462.7,397.7 463.2,396.7 463.7,395.8 464.2,394.9 464.7,393.9 465.2,393.0 465.7,392.0 466.2,391.1 466.7,390.2 467.2,389.2 467.7,388.3 468.2,387.3 468.7,386.3 469.2,385.4 469.7,384.4 470.2,383.4 470.7,382.4 471.2,381.4 471.7,380.5 472.2,379.6 472.7,379.2 473.2,379.7 473.7,380.8 474.2,381.9 474.7,383.0 475.2,384.1 475.7,385.4 476.2,386.8 476.7,388.5 477.2,390.3 477.7,392.0 478.2,393.7 478.7,395.4 479.2,396.8 479.7,397.8 480.2,398.7 480.7,399.5 481.2,400.3 481.7,401.1 482.2,401.9 482.7,402.5 483.2,402.5 483.7,401.5 484.2,400.1 484.7,398.6 485.2,397.0 485.7,395.7 486.2,395.4 486.7,397.2 487.2,400.5 487.7,403.7 488.2,405.8 488.7,406.9 489.2,407.6 489.7,408.0 490.2,408.2 490.7,408.2 491.2,408.2 491.7,408.2 492.2,408.2 492.7,408.2 493.2,408.2 493.7,408.2 494.2,408.2 494.7,408.2 495.2,408.1 495.7,407.9 496.2,407.7 496.7,407.4 497.2,407.2 497.7,406.9 498.2,406.4 498.7,405.4 499.2,404.0 499.7,402.4 500.2,400.8 500.7,399.2 501.2,397.7 501.7,396.7 502.2,397.2 502.7,398.9 503.2,401.1 503.7,403.3 504.2,405.5 504.7,407.3 505.2,408.4 505.7,409.1 506.2,409.6 506.7,410.1 507.2,410.6 507.7,411.0 508.2,411.3 508.7,411.5 509.2,411.6 509.7,411.7 510.2,411.8 510.7,411.9 511.2,411.9 511.7,412.0 512.2,412.1 512.7,412.2 513.2,412.3 513.7,412.4 514.2,412.4 514.7,412.5 515.2,412.6 515.7,412.7 516.2,412.8 516.7,412.8 517.2,412.7 517.7,411.9 518.2,410.0 518.7,407.7 519.2,405.3 519.7,403.0 520.2,400.7 520.7,399.4 521.2,400.1 521.7,402.1 522.2,404.5 522.7,406.8 523.2,408.8 523.7,409.8 524.2,410.3 524.7,410.6 525.2,410.9 525.7,411.2 526.2,411.5 526.7,411.7 527.2,412.0 527.7,412.3 528.2,412.6 528.7,412.9 529.2,413.1 529.7,413.2 530.2,413.4 530.7,413.5 531.2,413.7 531.7,413.8 532.2,414.0 532.7,414.1 533.2,414.3 533.7,414.4 534.2,414.6 534.7,414.7 535.2,414.9 535.7,415.0 536.2,415.2 536.7,415.2 537.2,415.0 537.7,414.6 538.2,414.1 538.7,413.6 539.2,413.1 539.7,412.6 540.2,412.1 540.7,411.6 541.2,411.1 541.7,410.6 542.2,410.1 542.7,409.6 543.2,409.1 543.7,408.6 544.2,408.1 544.7,407.8 545.2,407.9 545.7,408.3 546.2,408.8 546.7,409.4 547.2,409.9 547.7,410.5 548.2,411.1 548.7,411.6 549.2,412.2 549.7,412.7 550.2,413.3 550.7,413.8 551.2,414.4 551.7,414.9 552.2,415.4 552.7,415.9 553.2,416.4 553.7,416.9 554.2,417.4 554.7,417.9 555.2,418.4 555.7,418.9 556.2,419.4 556.7,419.9 557.2,420.4 557.7,420.8 558.2,420.9 558.7,420.9 559.2,420.8 559.7,420.7 560.2,420.6 560.7,420.3 561.2,420.1 561.7,419.8 562.2,419.6 562.7,419.3 563.2,419.0 563.7,418.8 564.2,418.5 564.7,418.3 565.2,418.0 565.7,417.7 566.2,417.4 566.7,416.9 567.2,416.3 567.7,415.7 568.2,415.1 568.7,414.5 569.2,413.9 569.7,413.3 570.2,412.7 570.7,412.1 571.2,411.2 571.7,409.8 572.2,407.9 572.7,405.8 573.2,403.8 573.7,401.7 574.2,399.6 574.7,397.5 575.2,395.4 575.7,393.3 576.2,391.6 576.7,391.1 577.2,392.3 577.7,394.3 578.2,396.5 578.7,398.6 579.2,400.8 579.7,402.8 580.2,404.4 580.7,405.9 581.2,407.3 581.7,408.2 582.2,408.0 582.7,407.1 583.2,406.0 583.7,404.9 584.2,403.8 584.7,402.6 585.2,401.5 585.7,400.5 586.2,399.9 586.7,399.6 587.2,399.4 587.7,399.2 588.2,399.0 588.7,398.8 589.2,398.6 589.7,398.4 590.2,398.1 590.7,397.8 591.2,397.0 591.7,395.5 592.2,393.8 592.7,391.9 593.2,390.1 593.7,388.2 594.2,386.3 594.7,384.3 595.2,382.2 595.7,380.1 596.2,378.0 596.7,375.9 597.2,373.8 597.7,371.8 598.2,370.2 598.7,369.6 599.2,369.9 599.7,370.5 600.2,371.2 600.7,371.9 601.2,372.7 601.7,373.9 602.2,375.5 602.7,377.3 603.2,379.2 603.7,381.0 604.2,382.6 604.7,383.5 605.2,383.3 605.7,382.7 606.2,381.9 606.7,381.2 607.2,380.5 607.7,379.7 608.2,378.9 608.7,377.4 609.2,374.7 609.7,371.1 610.2,367.3 610.7,363.5 611.2,359.7 611.7,357.0 612.2,356.3 612.7,357.5 613.2,359.4 613.7,361.5 614.2,363.5 614.7,365.8 615.2,368.9 615.7,372.9 616.2,377.2 616.7,381.5 617.2,385.8 617.7,389.9 618.2,392.9 618.7,394.6 619.2,395.5 619.7,396.4 620.2,397.2 620.7,398.1 621.2,399.5 621.7,401.8 622.2,404.5 622.7,407.3 623.2,410.1 623.7,412.8 624.2,415.6 624.7,418.4 625.2,421.2 625.7,423.9 626.2,426.3 626.7,427.9 627.2,428.7 627.7,429.2 628.2,429.7 628.7,430.2 629.2,430.7 629.7,431.2 630.2,431.6 630.7,431.6 631.2,431.2 631.7,430.4 632.2,429.7 632.7,428.9 633.2,428.2 633.7,427.4 634.2,426.6 634.7,425.8 635.2,424.7 635.7,423.6 636.2,422.5 636.7,421.3 637.2,420.2 637.7,419.0 638.2,417.9 638.7,416.7 639.2,415.6 639.7,414.5 640.2,413.3 640.7,412.2 641.2,411.1 641.7,410.3 642.2,410.4 642.7,411.5 643.2,413.1 643.7,414.7 644.2,416.3 644.7,417.9 645.2,419.5 645.7,421.1 646.2,422.7 646.7,424.3 647.2,425.7 647.7,426.7 648.2,427.7 648.7,428.5 649.2,429.4 649.7,430.3 650.2,431.2 650.7,432.0 651.2,432.7 651.7,432.9 652.2,432.9 652.7,432.9 653.2,432.8 653.7,432.7 654.2,432.6 654.7,432.6 655.2,432.5 655.7,432.4 656.2,432.3 656.7,432.2 657.2,432.1 657.7,431.9 658.2,431.5 658.7,431.0 659.2,430.5 659.7,429.9 660.2,429.4 660.7,428.9 661.2,428.5 661.7,428.3 662.2,428.8 662.7,429.6 663.2,430.5 663.7,431.4 664.2,432.2 664.7,433.1 665.2,433.9 665.7,434.6 666.2,434.7 666.7,434.4 667.2,433.9 667.7,433.4 668.2,432.9 668.7,432.6" fill="none" stroke="#e1232a" stroke-width="1.7" stroke-linejoin="round" stroke-linecap="round" />
<polyline points="363.2,484.9 363.7,484.7 364.2,484.3 364.7,483.5 365.2,482.6 365.7,481.9 366.2,481.9 366.7,482.2 367.2,482.4 367.7,482.2 368.2,482.1 368.7,482.3 369.2,482.0 369.7,481.3 370.2,480.8 370.7,480.6 371.2,480.6 371.7,480.4 372.2,480.1 372.7,479.8 373.2,479.7 373.7,479.5 374.2,479.3 374.7,479.4 375.2,480.3 375.7,481.8 376.2,482.9 376.7,483.3 377.2,483.4 377.7,483.7 378.2,483.6 378.7,482.6 379.2,481.1 379.7,480.6 380.2,481.3 380.7,482.2 381.2,482.5 381.7,482.3 382.2,482.0 382.7,481.6 383.2,481.4 383.7,481.3 384.2,481.6 384.7,481.8 385.2,481.4 385.7,480.5 386.2,480.0 386.7,480.1 387.2,480.5 387.7,481.1 388.2,482.2 388.7,483.5 389.2,484.3 389.7,484.6 390.2,484.8 390.7,485.5 391.2,486.5 391.7,487.4 392.2,488.2 392.7,488.6 393.2,488.7 393.7,488.2 394.2,487.8 394.7,487.6 395.2,488.1 395.7,488.6 396.2,489.0 396.7,489.5 397.2,490.1 397.7,490.1 398.2,489.6 398.7,488.7 399.2,488.1 399.7,488.5 400.2,490.3 400.7,492.2 401.2,492.9 401.7,492.0 402.2,490.3 402.7,488.6 403.2,487.0 403.7,485.5 404.2,485.1 404.7,486.1 405.2,487.5 405.7,488.2 406.2,488.2 406.7,487.3 407.2,485.9 407.7,484.7 408.2,484.1 408.7,484.5 409.2,485.7 409.7,486.9 410.2,487.4 410.7,487.5 411.2,487.6 411.7,487.5 412.2,487.1 412.7,487.0 413.2,487.4 413.7,487.8 414.2,488.3 414.7,489.1 415.2,489.5 415.7,489.2 416.2,488.4 416.7,487.5 417.2,486.7 417.7,486.2 418.2,486.2 418.7,486.4 419.2,486.3 419.7,485.9 420.2,485.6 420.7,485.3 421.2,484.9 421.7,484.5 422.2,483.8 422.7,483.2 423.2,482.9 423.7,482.7 424.2,482.6 424.7,482.9 425.2,483.3 425.7,483.8 426.2,484.7 426.7,486.2 427.2,487.7 427.7,488.7 428.2,489.1 428.7,489.3 429.2,489.9 429.7,490.6 430.2,490.8 430.7,490.6 431.2,490.2 431.7,489.2 432.2,488.0 432.7,486.8 433.2,485.8 433.7,485.0 434.2,484.8 434.7,484.8 435.2,484.7 435.7,484.3 436.2,483.6 436.7,482.9 437.2,482.7 437.7,483.2 438.2,484.7 438.7,487.2 439.2,489.9 439.7,491.5 440.2,492.0 440.7,492.0 441.2,491.3 441.7,489.7 442.2,487.2 442.7,484.6 443.2,482.5 443.7,481.3 444.2,480.7 444.7,480.3 445.2,480.1 445.7,480.2 446.2,480.7 446.7,481.5 447.2,482.4 447.7,482.7 448.2,482.5 448.7,481.5 449.2,480.0 449.7,478.4 450.2,477.6 450.7,477.3 451.2,477.1 451.7,477.0 452.2,476.8 452.7,476.3 453.2,475.7 453.7,475.5 454.2,475.6 454.7,475.3 455.2,474.9 455.7,475.1 456.2,476.2 456.7,477.2 457.2,478.1 457.7,479.3 458.2,480.5 458.7,481.1 459.2,481.5 459.7,482.4 460.2,483.8 460.7,484.8 461.2,485.1 461.7,485.2 462.2,485.2 462.7,485.1 463.2,484.3 463.7,482.7 464.2,481.1 464.7,480.4 465.2,480.4 465.7,480.3 466.2,480.2 466.7,480.4 467.2,481.0 467.7,481.1 468.2,480.4 468.7,479.9 469.2,480.2 469.7,481.1 470.2,481.8 470.7,481.9 471.2,481.6 471.7,481.5 472.2,482.0 472.7,483.1 473.2,484.1 473.7,485.2 474.2,486.3 474.7,487.2 475.2,487.4 475.7,486.8 476.2,485.5 476.7,483.6 477.2,481.5 477.7,479.8 478.2,479.1 478.7,478.5 479.2,477.8 479.7,477.6 480.2,478.8 480.7,480.6 481.2,482.2 481.7,483.2 482.2,484.3 482.7,486.0 483.2,488.2 483.7,489.8 484.2,491.0 484.7,492.2 485.2,493.5 485.7,495.4 486.2,497.7 486.7,499.9 487.2,501.8 487.7,503.1 488.2,503.9 488.7,504.7 489.2,505.4 489.7,505.3 490.2,504.3 490.7,503.2 491.2,502.4 491.7,501.5 492.2,500.4 492.7,499.3 493.2,498.2 493.7,497.2 494.2,496.4 494.7,495.2 495.2,493.5 495.7,491.2 496.2,488.9 496.7,487.0 497.2,485.2 497.7,483.4 498.2,481.6 498.7,479.8 499.2,477.6 499.7,474.9 500.2,472.2 500.7,470.1 501.2,469.0 501.7,468.9 502.2,469.7 502.7,471.2 503.2,472.9 503.7,474.2 504.2,474.8 504.7,475.2 505.2,476.3 505.7,478.1 506.2,479.6 506.7,480.0 507.2,479.4 507.7,479.2 508.2,480.0 508.7,480.9 509.2,481.3 509.7,481.3 510.2,481.5 510.7,481.8 511.2,482.0 511.7,481.9 512.2,481.0 512.7,479.4 513.2,477.6 513.7,476.0 514.2,474.6 514.7,473.2 515.2,471.8 515.7,471.0 516.2,470.5 516.7,470.5 517.2,471.3 517.7,473.1 518.2,475.5 518.7,477.9 519.2,479.8 519.7,481.1 520.2,481.8 520.7,482.7 521.2,483.9 521.7,485.0 522.2,486.2 522.7,487.5 523.2,488.4 523.7,488.7 524.2,488.8 524.7,489.5 525.2,491.0 525.7,493.1 526.2,494.7 526.7,495.5 527.2,496.0 527.7,496.8 528.2,498.1 528.7,499.1 529.2,499.0 529.7,498.0 530.2,496.8 530.7,496.0 531.2,495.4 531.7,495.0 532.2,494.9 532.7,495.6 533.2,497.0 533.7,498.5 534.2,499.6 534.7,500.3 535.2,501.4 535.7,502.6 536.2,503.3 536.7,503.8 537.2,505.0 537.7,507.1 538.2,509.7 538.7,512.6 539.2,515.4 539.7,517.7 540.2,519.1 540.7,518.2 541.2,514.9 541.7,511.0 542.2,508.0 542.7,506.0 543.2,504.2 543.7,502.0 544.2,499.1 544.7,495.9 545.2,492.4 545.7,488.3 546.2,483.7 546.7,479.4 547.2,476.2 547.7,473.3 548.2,470.2 548.7,466.6 549.2,463.0 549.7,459.5 550.2,455.9 550.7,452.7 551.2,450.9 551.7,450.9 552.2,452.1 552.7,454.1 553.2,456.6 553.7,459.5 554.2,462.2 554.7,464.7 555.2,467.4 555.7,470.3 556.2,473.0 556.7,474.8 557.2,475.9 557.7,476.8 558.2,477.5 558.7,478.0 559.2,478.5 559.7,479.2 560.2,480.5 560.7,482.1 561.2,483.2 561.7,483.6 562.2,484.0 562.7,484.6 563.2,485.2 563.7,485.5 564.2,485.3 564.7,484.4 565.2,483.3 565.7,483.3 566.2,484.2 566.7,485.5 567.2,486.6 567.7,487.3 568.2,487.4 568.7,487.3 569.2,487.5 569.7,488.4 570.2,490.0 570.7,492.1 571.2,494.2 571.7,495.6 572.2,496.1 572.7,496.7 573.2,498.2 573.7,499.8 574.2,500.4 574.7,499.8 575.2,498.2 575.7,496.8 576.2,495.5 576.7,494.0 577.2,492.8 577.7,492.4 578.2,492.4 578.7,492.1 579.2,491.5 579.7,491.0 580.2,490.8 580.7,490.6 581.2,490.2 581.7,489.8 582.2,489.4 582.7,489.0 583.2,488.4 583.7,487.4 584.2,485.8 584.7,484.4 585.2,483.6 585.7,483.1 586.2,482.2 586.7,480.9 587.2,479.4 587.7,478.3 588.2,477.4 588.7,476.3 589.2,475.3 589.7,474.9 590.2,475.2 590.7,475.7 591.2,476.3 591.7,477.2 592.2,478.2 592.7,478.9 593.2,479.4 593.7,480.5 594.2,482.4 594.7,484.9 595.2,487.0 595.7,488.2 596.2,488.4 596.7,487.8 597.2,486.9 597.7,486.4 598.2,486.6 598.7,486.7 599.2,486.3 599.7,485.5 600.2,484.9 600.7,484.4 601.2,483.7 601.7,482.9 602.2,482.7 602.7,483.5 603.2,484.9 603.7,486.2 604.2,487.1 604.7,487.7 605.2,488.3 605.7,488.5 606.2,488.2 606.7,487.5 607.2,486.5 607.7,485.2 608.2,483.7 608.7,482.3 609.2,480.8 609.7,478.8 610.2,476.7 610.7,475.0 611.2,474.1 611.7,473.8 612.2,474.1 612.7,474.6 613.2,474.7 613.7,474.8 614.2,475.5 614.7,476.6 615.2,477.2 615.7,476.9 616.2,476.6 616.7,477.4 617.2,478.5 617.7,479.5 618.2,480.5 618.7,481.7 619.2,482.8 619.7,484.0 620.2,485.7 620.7,487.7 621.2,488.7 621.7,488.1 622.2,486.7 622.7,485.2 623.2,483.7 623.7,482.2 624.2,480.7 624.7,479.2 625.2,478.3 625.7,478.8 626.2,481.0 626.7,483.9 627.2,486.2 627.7,487.3 628.2,487.9 628.7,488.8 629.2,490.1 629.7,491.0 630.2,490.9 630.7,489.9 631.2,488.8 631.7,487.8 632.2,487.1 632.7,486.5 633.2,486.1 633.7,486.0 634.2,486.4 634.7,487.3 635.2,488.8 635.7,490.2 636.2,490.9 636.7,490.9 637.2,491.1 637.7,491.9 638.2,492.1 638.7,491.0 639.2,488.9 639.7,487.2 640.2,486.6 640.7,486.6 641.2,486.3 641.7,485.3 642.2,483.8 642.7,482.6 643.2,482.2 643.7,482.5 644.2,483.2 644.7,483.9 645.2,485.0 645.7,486.2 646.2,487.2 646.7,487.9 647.2,488.6 647.7,489.5 648.2,489.9 648.7,489.5 649.2,488.1 649.7,486.5 650.2,485.1 650.7,483.7 651.2,482.6 651.7,482.2 652.2,482.2 652.7,482.3 653.2,482.5 653.7,482.9 654.2,483.0 654.7,483.1 655.2,483.6 655.7,484.5 656.2,485.0 656.7,485.0 657.2,484.9 657.7,485.1 658.2,485.9 658.7,486.7 659.2,487.1 659.7,487.6 660.2,488.6 660.7,489.6 661.2,490.0 661.7,489.8 662.2,489.1 662.7,488.1 663.2,486.9 663.7,485.3 664.2,483.6 664.7,482.4 665.2,481.8 665.7,481.8 666.2,482.4 666.7,483.5 667.2,484.9 667.7,486.6 668.2,488.6 668.7,490.6 669.2,492.3" fill="none" stroke="#2c55a5" stroke-width="1.7" stroke-linejoin="round" stroke-linecap="round" />
<polyline points="363.2,463.5 363.7,463.6 364.2,463.8 364.7,463.7 365.2,463.5 365.7,463.5 366.2,463.7 366.7,463.8 367.2,463.8 367.7,463.9 368.2,464.0 368.7,464.3 369.2,464.5 369.7,464.5 370.2,464.6 370.7,465.0 371.2,465.4 371.7,465.5 372.2,465.0 372.7,464.3 373.2,463.6 373.7,463.1 374.2,463.1 374.7,463.8 375.2,464.4 375.7,464.4 376.2,464.0 376.7,463.5 377.2,463.1 377.7,463.1 378.2,462.8 378.7,462.1 379.2,461.5 379.7,461.4 380.2,461.4 380.7,461.6 381.2,461.6 381.7,461.5 382.2,461.2 382.7,461.0 383.2,460.9 383.7,460.9 384.2,461.2 384.7,461.3 385.2,460.8 385.7,459.8 386.2,459.3 386.7,459.3 387.2,459.5 387.7,459.9 388.2,460.3 388.7,460.5 389.2,460.6 389.7,460.7 390.2,460.8 390.7,460.6 391.2,460.5 391.7,460.5 392.2,460.7 392.7,461.0 393.2,461.1 393.7,461.3 394.2,461.8 394.7,462.3 395.2,462.4 395.7,462.5 396.2,463.1 396.7,463.8 397.2,464.5 397.7,464.9 398.2,464.6 398.7,463.9 399.2,463.4 399.7,463.6 400.2,464.2 400.7,464.6 401.2,464.3 401.7,463.5 402.2,462.9 402.7,463.0 403.2,463.7 403.7,464.3 404.2,464.3 404.7,463.6 405.2,462.8 405.7,462.7 406.2,463.0 406.7,463.2 407.2,462.8 407.7,462.0 408.2,461.1 408.7,460.6 409.2,460.9 409.7,461.6 410.2,462.2 410.7,462.5 411.2,462.5 411.7,462.4 412.2,462.4 412.7,462.4 413.2,462.5 413.7,462.4 414.2,462.3 414.7,462.0 415.2,461.9 415.7,461.9 416.2,462.1 416.7,462.3 417.2,462.4 417.7,462.2 418.2,462.2 418.7,462.4 419.2,462.4 419.7,461.7 420.2,461.0 420.7,460.9 421.2,461.3 421.7,461.5 422.2,461.6 422.7,461.9 423.2,462.3 423.7,462.3 424.2,461.9 424.7,461.5 425.2,460.9 425.7,460.2 426.2,460.0 426.7,460.4 427.2,460.7 427.7,460.6 428.2,460.6 428.7,461.3 429.2,462.5 429.7,463.5 430.2,463.7 430.7,463.2 431.2,462.7 431.7,462.4 432.2,462.8 432.7,463.4 433.2,463.7 433.7,463.7 434.2,464.1 434.7,464.7 435.2,464.9 435.7,464.8 436.2,464.5 436.7,464.1 437.2,463.9 437.7,464.0 438.2,464.4 438.7,465.2 439.2,465.8 439.7,465.6 440.2,464.8 440.7,464.0 441.2,463.6 441.7,463.5 442.2,463.5 442.7,463.5 443.2,463.0 443.7,462.2 444.2,461.9 444.7,462.1 445.2,462.3 445.7,462.3 446.2,462.0 446.7,461.4 447.2,460.6 447.7,460.0 448.2,459.6 448.7,459.7 449.2,460.2 449.7,460.6 450.2,460.7 450.7,460.6 451.2,460.6 451.7,460.5 452.2,460.0 452.7,459.5 453.2,459.0 453.7,458.8 454.2,459.0 454.7,459.5 455.2,459.9 455.7,460.3 456.2,461.1 456.7,462.2 457.2,463.2 457.7,463.5 458.2,462.8 458.7,461.9 459.2,461.8 459.7,462.3 460.2,463.4 460.7,464.6 461.2,465.3 461.7,465.4 462.2,465.0 462.7,464.4 463.2,463.8 463.7,462.9 464.2,461.9 464.7,461.3 465.2,461.3 465.7,461.1 466.2,460.6 466.7,460.5 467.2,461.1 467.7,461.6 468.2,461.3 468.7,460.8 469.2,460.8 469.7,461.4 470.2,462.0 470.7,462.2 471.2,462.1 471.7,462.5 472.2,463.2 472.7,463.6 473.2,463.0 473.7,461.9 474.2,461.1 474.7,461.0 475.2,461.7 475.7,462.8 476.2,463.4 476.7,463.1 477.2,462.3 477.7,461.7 478.2,461.5 478.7,461.6 479.2,462.1 479.7,462.7 480.2,463.4 480.7,464.2 481.2,464.7 481.7,464.9 482.2,465.3 482.7,466.1 483.2,467.4 483.7,468.8 484.2,469.7 484.7,470.1 485.2,470.5 485.7,471.0 486.2,471.4 486.7,471.9 487.2,472.9 487.7,474.2 488.2,475.2 488.7,475.5 489.2,474.8 489.7,473.8 490.2,473.0 490.7,472.8 491.2,472.8 491.7,472.3 492.2,471.2 492.7,470.1 493.2,469.0 493.7,467.9 494.2,467.1 494.7,466.2 495.2,464.4 495.7,461.4 496.2,457.9 496.7,454.8 497.2,452.7 497.7,451.8 498.2,451.5 498.7,451.2 499.2,450.9 499.7,450.8 500.2,450.8 500.7,450.9 501.2,451.6 501.7,453.1 502.2,454.8 502.7,456.0 503.2,456.5 503.7,456.8 504.2,457.0 504.7,456.8 505.2,456.3 505.7,455.8 506.2,455.6 506.7,455.5 507.2,455.4 507.7,455.6 508.2,456.2 508.7,457.1 509.2,458.1 509.7,458.8 510.2,459.2 510.7,459.2 511.2,458.5 511.7,456.9 512.2,455.3 512.7,454.9 513.2,455.5 513.7,456.2 514.2,456.5 514.7,456.1 515.2,455.4 515.7,455.1 516.2,455.3 516.7,456.0 517.2,457.0 517.7,458.3 518.2,459.5 518.7,460.1 519.2,460.4 519.7,460.9 520.2,461.9 520.7,463.0 521.2,463.9 521.7,464.3 522.2,464.3 522.7,463.9 523.2,463.6 523.7,463.9 524.2,464.5 524.7,465.2 525.2,465.6 525.7,465.6 526.2,465.5 526.7,465.6 527.2,465.7 527.7,466.0 528.2,466.4 528.7,467.0 529.2,467.2 529.7,467.0 530.2,467.1 530.7,467.9 531.2,469.0 531.7,469.8 532.2,471.0 532.7,472.7 533.2,474.4 533.7,475.5 534.2,476.1 534.7,476.9 535.2,478.4 535.7,480.6 536.2,482.6 536.7,484.4 537.2,486.1 537.7,486.9 538.2,486.4 538.7,485.1 539.2,483.8 539.7,482.3 540.2,480.4 540.7,478.1 541.2,475.6 541.7,472.9 542.2,469.7 542.7,466.4 543.2,464.0 543.7,462.9 544.2,462.3 544.7,461.5 545.2,460.6 545.7,459.6 546.2,458.3 546.7,456.8 547.2,454.8 547.7,451.8 548.2,448.2 548.7,444.7 549.2,441.8 549.7,439.6 550.2,438.7 550.7,438.9 551.2,439.7 551.7,440.6 552.2,441.6 552.7,442.6 553.2,443.7 553.7,444.9 554.2,446.2 554.7,447.8 555.2,449.8 555.7,452.1 556.2,454.2 556.7,456.0 557.2,457.4 557.7,458.5 558.2,459.9 558.7,461.5 559.2,462.9 559.7,464.0 560.2,464.4 560.7,464.2 561.2,463.4 561.7,462.3 562.2,461.1 562.7,460.1 563.2,459.5 563.7,459.2 564.2,459.2 564.7,459.8 565.2,460.7 565.7,461.3 566.2,461.2 566.7,460.8 567.2,460.1 567.7,459.5 568.2,459.1 568.7,459.1 569.2,459.2 569.7,459.6 570.2,460.0 570.7,460.1 571.2,460.2 571.7,460.6 572.2,461.2 572.7,461.6 573.2,461.7 573.7,462.1 574.2,463.0 574.7,464.0 575.2,464.9 575.7,465.5 576.2,465.8 576.7,465.6 577.2,464.8 577.7,464.0 578.2,463.7 578.7,463.4 579.2,463.2 579.7,463.6 580.2,464.3 580.7,464.5 581.2,463.9 581.7,463.3 582.2,463.5 582.7,464.2 583.2,464.9 583.7,465.5 584.2,465.9 584.7,465.9 585.2,465.1 585.7,463.9 586.2,462.9 586.7,462.4 587.2,462.3 587.7,462.6 588.2,462.8 588.7,462.6 589.2,462.0 589.7,461.7 590.2,462.0 590.7,462.7 591.2,463.4 591.7,463.8 592.2,464.1 592.7,464.5 593.2,465.0 593.7,465.9 594.2,467.0 594.7,467.5 595.2,467.1 595.7,466.0 596.2,465.2 596.7,465.2 597.2,465.5 597.7,465.5 598.2,464.8 598.7,463.7 599.2,462.8 599.7,462.2 600.2,461.7 600.7,461.5 601.2,461.5 601.7,461.3 602.2,460.8 602.7,460.4 603.2,460.8 603.7,462.6 604.2,465.0 604.7,466.6 605.2,466.8 605.7,466.2 606.2,465.7 606.7,465.8 607.2,466.3 607.7,467.0 608.2,467.9 608.7,468.6 609.2,468.7 609.7,468.2 610.2,467.2 610.7,466.1 611.2,465.0 611.7,464.3 612.2,464.0 612.7,463.7 613.2,462.9 613.7,461.4 614.2,460.0 614.7,459.8 615.2,460.6 615.7,461.4 616.2,461.6 616.7,462.1 617.2,463.4 617.7,464.6 618.2,464.9 618.7,464.6 619.2,464.5 619.7,464.4 620.2,464.6 620.7,464.9 621.2,465.2 621.7,465.1 622.2,464.8 622.7,464.6 623.2,464.7 623.7,465.0 624.2,465.1 624.7,465.0 625.2,465.0 625.7,465.4 626.2,466.1 626.7,466.5 627.2,466.2 627.7,465.6 628.2,465.5 628.7,466.3 629.2,467.6 629.7,468.7 630.2,468.9 630.7,468.4 631.2,467.8 631.7,467.4 632.2,467.5 632.7,467.9 633.2,467.9 633.7,467.2 634.2,466.5 634.7,466.2 635.2,466.1 635.7,465.8 636.2,465.6 636.7,466.3 637.2,467.4 637.7,468.0 638.2,467.8 638.7,467.4 639.2,467.1 639.7,466.8 640.2,466.6 640.7,466.0 641.2,465.0 641.7,464.1 642.2,463.6 642.7,463.4 643.2,463.1 643.7,462.6 644.2,461.8 644.7,460.9 645.2,460.3 645.7,460.2 646.2,460.6 646.7,460.8 647.2,460.5 647.7,459.7 648.2,459.1 648.7,459.1 649.2,458.8 649.7,457.9 650.2,456.8 650.7,456.1 651.2,456.1 651.7,456.3 652.2,456.4 652.7,455.8 653.2,454.9 653.7,454.3 654.2,454.7 654.7,455.3 655.2,455.7 655.7,455.3 656.2,454.1 656.7,452.9 657.2,452.2 657.7,452.2 658.2,452.7 658.7,453.0 659.2,452.7 659.7,452.5 660.2,452.4 660.7,452.2 661.2,451.8 661.7,451.7 662.2,452.1 662.7,452.6 663.2,453.1 663.7,453.9 664.2,455.5 664.7,457.2 665.2,458.5 665.7,459.2 666.2,459.8 666.7,460.5 667.2,461.3 667.7,462.2 668.2,462.8 668.7,463.1 669.2,463.3" fill="none" stroke="#e1232a" stroke-width="1.7" stroke-linejoin="round" stroke-linecap="round" />
</svg></body></html>
